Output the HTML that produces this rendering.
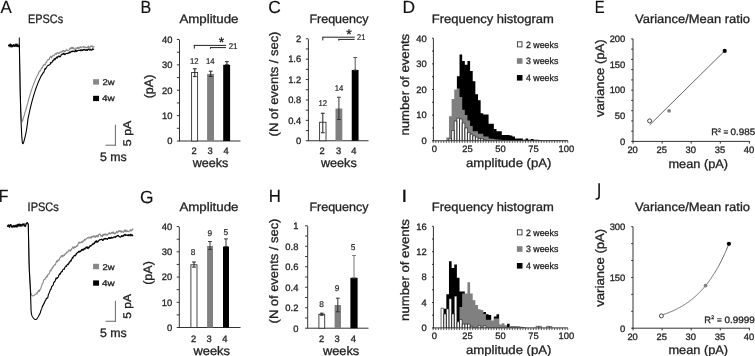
<!DOCTYPE html>
<html><head><meta charset="utf-8"><style>
html,body{margin:0;padding:0;background:#fff;overflow:hidden;}
svg{display:block;}
text{font-family:"Liberation Sans", sans-serif;text-rendering:geometricPrecision;}
svg{will-change:transform;}
</style></head><body>
<svg width="755" height="356" viewBox="0 0 755 356">
<rect width="755" height="356" fill="#fff"/>
<text transform="translate(0.42,13.10) scale(0.956,1)" x="0" y="0" font-size="17.6" fill="#111" stroke="#111" stroke-width="0.15">A</text>
<text transform="translate(140.51,13.40) scale(0.913,1)" x="0" y="0" font-size="17.6" fill="#111" stroke="#111" stroke-width="0.15">B</text>
<text transform="translate(268.23,13.20) scale(0.992,1)" x="0" y="0" font-size="17.6" fill="#111" stroke="#111" stroke-width="0.15">C</text>
<text transform="translate(402.40,12.90) scale(0.993,1)" x="0" y="0" font-size="17.6" fill="#111" stroke="#111" stroke-width="0.15">D</text>
<text transform="translate(594.71,13.20) scale(0.844,1)" x="0" y="0" font-size="17.6" fill="#111" stroke="#111" stroke-width="0.15">E</text>
<text transform="translate(-1.27,201.90) scale(0.904,1)" x="0" y="0" font-size="17.6" fill="#111" stroke="#111" stroke-width="0.15">F</text>
<text transform="translate(139.93,202.50) scale(0.989,1)" x="0" y="0" font-size="17.6" fill="#111" stroke="#111" stroke-width="0.15">G</text>
<text transform="translate(268.66,201.80) scale(0.954,1)" x="0" y="0" font-size="17.6" fill="#111" stroke="#111" stroke-width="0.15">H</text>
<text transform="translate(401.31,201.80) scale(1.256,1)" x="0" y="0" font-size="17.6" fill="#111" stroke="#111" stroke-width="0.15">I</text>
<path d="M599.1,183.3 L599.1,196.2 Q599.1,199.0 596.4,199.0 L595.6,199.0" fill="none" stroke="#111" stroke-width="1.55"/>
<text x="28.00" y="22.90" font-size="12.3" text-anchor="start" fill="#222" stroke="#222" stroke-width="0.3" textLength="35.10" lengthAdjust="spacingAndGlyphs">EPSCs</text>
<text x="27.60" y="211.00" font-size="12.3" text-anchor="start" fill="#222" stroke="#222" stroke-width="0.3" textLength="31.20" lengthAdjust="spacingAndGlyphs">IPSCs</text>
<text x="179.40" y="22.70" font-size="12.3" text-anchor="start" fill="#222" stroke="#222" stroke-width="0.3" textLength="59.10" lengthAdjust="spacingAndGlyphs">Amplitude</text>
<text x="309.40" y="22.90" font-size="12.3" text-anchor="start" fill="#222" stroke="#222" stroke-width="0.3" textLength="59.10" lengthAdjust="spacingAndGlyphs">Frequency</text>
<text x="431.80" y="22.90" font-size="12.3" text-anchor="start" fill="#222" stroke="#222" stroke-width="0.3" textLength="122.00" lengthAdjust="spacingAndGlyphs">Frequency histogram</text>
<text x="635.00" y="22.90" font-size="12.3" text-anchor="start" fill="#222" stroke="#222" stroke-width="0.3" textLength="115.00" lengthAdjust="spacingAndGlyphs">Variance/Mean ratio</text>
<text x="179.40" y="211.00" font-size="12.3" text-anchor="start" fill="#222" stroke="#222" stroke-width="0.3" textLength="59.10" lengthAdjust="spacingAndGlyphs">Amplitude</text>
<text x="309.40" y="211.20" font-size="12.3" text-anchor="start" fill="#222" stroke="#222" stroke-width="0.3" textLength="59.10" lengthAdjust="spacingAndGlyphs">Frequency</text>
<text x="431.80" y="211.20" font-size="12.3" text-anchor="start" fill="#222" stroke="#222" stroke-width="0.3" textLength="122.00" lengthAdjust="spacingAndGlyphs">Frequency histogram</text>
<text x="635.00" y="211.20" font-size="12.3" text-anchor="start" fill="#222" stroke="#222" stroke-width="0.3" textLength="115.00" lengthAdjust="spacingAndGlyphs">Variance/Mean ratio</text>
<rect x="93.10" y="79.20" width="5.90" height="5.40" fill="#888"/>
<text x="102.60" y="85.00" font-size="8.4" text-anchor="start" fill="#222" stroke="#222" stroke-width="0.3" textLength="12.10" lengthAdjust="spacingAndGlyphs">2w</text>
<rect x="93.10" y="95.80" width="5.90" height="5.30" fill="#000"/>
<text x="102.00" y="101.40" font-size="8.4" text-anchor="start" fill="#222" stroke="#222" stroke-width="0.3" textLength="12.70" lengthAdjust="spacingAndGlyphs">4w</text>
<rect x="93.10" y="263.80" width="5.90" height="5.40" fill="#888"/>
<text x="102.60" y="269.60" font-size="8.4" text-anchor="start" fill="#222" stroke="#222" stroke-width="0.3" textLength="12.10" lengthAdjust="spacingAndGlyphs">2w</text>
<rect x="93.10" y="280.40" width="5.90" height="5.30" fill="#000"/>
<text x="102.00" y="286.00" font-size="8.4" text-anchor="start" fill="#222" stroke="#222" stroke-width="0.3" textLength="12.70" lengthAdjust="spacingAndGlyphs">4w</text>
<line x1="115.40" y1="124.60" x2="115.40" y2="145.70" stroke="#666" stroke-width="1"/>
<line x1="105.60" y1="145.20" x2="115.90" y2="145.20" stroke="#666" stroke-width="1"/>
<text transform="translate(131.20,133.40) rotate(-90)" x="0" y="0" font-size="11.2" text-anchor="middle" fill="#222" stroke="#222" stroke-width="0.3" textLength="25.60" lengthAdjust="spacingAndGlyphs">5 pA</text>
<text x="100.00" y="161.10" font-size="12.3" text-anchor="start" fill="#222" stroke="#222" stroke-width="0.3" textLength="26.70" lengthAdjust="spacingAndGlyphs">5 ms</text>
<line x1="115.40" y1="300.75" x2="115.40" y2="321.75" stroke="#666" stroke-width="1"/>
<line x1="105.60" y1="321.25" x2="115.90" y2="321.25" stroke="#666" stroke-width="1"/>
<text transform="translate(131.20,306.38) rotate(-90)" x="0" y="0" font-size="11.2" text-anchor="middle" fill="#222" stroke="#222" stroke-width="0.3" textLength="24.75" lengthAdjust="spacingAndGlyphs">5 pA</text>
<text x="100.00" y="336.50" font-size="12.3" text-anchor="start" fill="#222" stroke="#222" stroke-width="0.3" textLength="26.70" lengthAdjust="spacingAndGlyphs">5 ms</text>
<path d="M8.40,45.36 L8.75,45.32 L9.10,46.85 L9.45,44.55 L9.80,44.09 L10.15,46.90 L10.50,46.70 L10.85,47.02 L11.20,45.35 L11.55,46.89 L11.90,46.82 L12.25,44.69 L12.60,46.26 L12.95,46.53 L13.30,46.00 L13.65,45.56 L14.00,44.86 L14.35,45.01 L14.70,44.67 L15.05,44.18 L15.40,45.74 L15.75,44.82 L16.10,46.39 L16.45,44.09 L16.80,46.66 L17.15,46.02 L17.50,46.70 L17.85,46.61 L18.20,46.62 L18.55,45.64 L18.90,43.94 L19.40,45.50 L19.48,51.81 L19.60,60.00 L19.74,67.16 L19.90,75.00 L20.07,84.75 L20.30,95.00 L20.50,101.84 L20.73,108.56 L21.00,114.00 L21.25,116.88 L21.54,119.01 L21.84,120.48 L22.10,121.40 L22.37,121.55 L22.60,120.67 L22.90,119.50 L23.14,118.78 L23.41,117.94 L23.70,117.00 L24.00,116.01 L24.30,115.00 L24.56,114.14 L24.82,113.25 L25.09,112.33 L25.36,111.39 L25.63,110.44 L25.90,109.50 L26.19,108.50 L26.49,107.40 L26.80,106.31 L27.09,105.29 L27.33,104.42 L27.50,103.80 L27.80,102.64 L28.15,101.31 L28.50,100.01 L28.85,98.74 L29.20,97.50 L29.55,96.29 L29.90,95.10 L30.25,93.95 L30.60,92.82 L30.95,91.72 L31.30,90.64 L31.65,89.59 L32.00,88.57 L32.35,87.57 L32.70,86.59 L33.05,85.63 L33.40,84.70 L33.75,83.79 L34.10,82.90 L34.45,82.03 L34.80,81.18 L35.15,80.36 L35.50,79.55 L35.85,78.76 L36.20,77.99 L36.55,77.24 L36.90,76.50 L37.25,75.78 L37.60,75.08 L37.95,74.40 L38.30,74.24 L38.65,72.65 L39.00,71.81 L39.35,71.84 L39.70,71.27 L40.05,70.47 L40.40,70.88 L40.75,70.13 L41.10,68.92 L41.45,67.86 L41.80,68.35 L42.15,67.54 L42.50,67.53 L42.85,66.38 L43.20,65.26 L43.55,65.17 L43.90,65.49 L44.25,64.09 L44.60,64.46 L44.95,64.72 L45.30,64.40 L45.65,64.08 L46.00,62.03 L46.35,62.11 L46.70,62.45 L47.05,60.75 L47.40,60.19 L47.75,59.73 L48.10,59.87 L48.45,59.56 L48.80,59.35 L49.15,59.72 L49.50,58.14 L49.85,57.31 L50.20,56.90 L50.55,56.55 L50.90,56.12 L51.25,57.65 L51.60,58.04 L51.95,56.51 L52.30,56.48 L52.65,55.95 L53.00,55.57 L53.35,55.34 L53.70,55.72 L54.05,55.67 L54.40,55.07 L54.75,54.31 L55.10,54.12 L55.45,53.49 L55.80,53.97 L56.15,54.45 L56.50,53.90 L56.85,52.91 L57.20,52.53 L57.55,52.65 L57.90,53.11 L58.25,53.63 L58.60,52.96 L58.95,53.43 L59.30,53.21 L59.65,52.63 L60.00,52.14 L60.35,52.08 L60.70,52.41 L61.05,51.92 L61.40,52.17 L61.75,51.75 L62.10,51.03 L62.45,51.20 L62.80,51.56 L63.15,50.39 L63.50,50.47 L63.85,50.46 L64.20,51.34 L64.55,51.85 L64.90,50.88 L65.25,51.43 L65.60,51.43 L65.95,50.28 L66.30,50.08 L66.65,49.22 L67.00,50.18 L67.35,50.30 L67.70,50.79 L68.05,50.79 L68.40,50.49 L68.75,50.44 L69.10,50.02 L69.45,48.81 L69.80,49.17 L70.15,48.11 L70.50,47.83 L70.85,48.96 L71.20,47.98 L71.55,47.55 L71.90,47.32 L72.25,48.79 L72.60,48.04 L72.95,47.31 L73.30,48.62 L73.65,47.74 L74.00,48.78 L74.35,48.92 L74.70,49.29 L75.05,49.70 L75.40,49.10 L75.75,49.23 L76.10,47.68 L76.45,48.41 L76.80,48.21 L77.15,48.52 L77.50,47.38 L77.85,48.13 L78.20,48.86 L78.55,47.39 L78.90,47.19 L79.25,47.56 L79.60,48.28 L79.95,47.40 L80.30,46.81 L80.65,46.64 L81.00,47.30 L81.35,47.90 L81.70,47.44 L82.05,47.13 L82.40,47.03 L82.75,46.86 L83.10,46.90 L83.45,46.21 L83.80,46.72 L84.15,47.94 L84.50,47.37 L84.85,47.77 L85.20,46.74 L85.55,47.31 L85.90,47.72 L86.25,47.74 L86.60,47.41 L86.95,47.17 L87.30,47.36 L87.65,47.98 L88.00,46.72 L88.35,45.97 L88.70,46.94 L89.05,47.76 L89.40,47.34 L89.75,46.96 L90.10,47.33 L90.45,46.40 L90.80,46.10 L91.15,45.79 L91.50,46.44 L91.85,46.19 L92.20,45.88 L92.55,46.68 L92.90,47.61 L93.25,46.70 L93.60,47.09 L93.95,46.67 L94.30,47.37" fill="none" stroke="#8a8a8a" stroke-width="1.1" stroke-linejoin="round"/>
<path d="M8.40,44.81 L8.75,45.73 L9.10,45.20 L9.45,45.89 L9.80,45.95 L10.15,44.26 L10.50,44.10 L10.85,46.57 L11.20,44.83 L11.55,44.74 L11.90,47.02 L12.25,45.44 L12.60,46.53 L12.95,45.44 L13.30,45.93 L13.65,44.45 L14.00,45.90 L14.35,46.59 L14.70,45.55 L15.05,46.20 L15.40,45.98 L15.75,44.16 L16.10,46.23 L16.45,45.72 L16.80,44.85 L17.15,44.03 L17.50,46.53 L17.85,45.34 L18.20,46.07 L18.55,46.55 L18.90,46.05 L19.40,45.50 L19.48,51.81 L19.60,60.00 L19.74,67.16 L19.90,75.00 L20.07,84.38 L20.30,95.00 L20.50,103.19 L20.73,111.93 L21.00,120.00 L21.23,125.51 L21.48,130.77 L21.74,135.40 L22.00,139.00 L22.23,141.42 L22.45,142.89 L22.69,143.59 L23.00,143.70 L23.22,143.45 L23.46,142.90 L23.72,142.11 L23.99,141.15 L24.27,140.10 L24.54,139.03 L24.80,138.00 L25.09,136.84 L25.38,135.62 L25.67,134.34 L25.95,132.98 L26.23,131.54 L26.50,130.00 L26.78,128.20 L27.07,126.12 L27.36,123.95 L27.62,121.89 L27.84,120.14 L28.00,118.90 L28.30,117.40 L28.65,115.69 L29.00,114.03 L29.35,112.41 L29.70,110.84 L30.05,109.30 L30.40,107.79 L30.75,106.33 L31.10,104.90 L31.45,103.51 L31.80,102.15 L32.15,100.83 L32.50,99.54 L32.85,98.28 L33.20,97.05 L33.55,95.85 L33.90,94.69 L34.25,93.55 L34.60,92.44 L34.95,91.35 L35.30,90.30 L35.65,89.27 L36.00,88.26 L36.35,87.29 L36.70,86.33 L37.05,85.40 L37.40,84.49 L37.75,83.61 L38.10,82.74 L38.45,81.90 L38.80,81.08 L39.15,80.28 L39.50,79.50 L39.85,78.74 L40.20,77.99 L40.55,77.27 L40.90,76.56 L41.25,75.87 L41.60,75.20 L41.95,74.55 L42.30,74.58 L42.65,73.46 L43.00,73.25 L43.35,72.28 L43.70,72.30 L44.05,71.95 L44.40,70.26 L44.75,69.21 L45.10,68.56 L45.45,69.19 L45.80,68.41 L46.15,68.09 L46.50,67.18 L46.85,66.83 L47.20,66.24 L47.55,65.68 L47.90,65.56 L48.25,65.30 L48.60,65.48 L48.95,65.03 L49.30,65.01 L49.65,64.70 L50.00,64.58 L50.35,63.83 L50.70,62.48 L51.05,62.75 L51.40,62.89 L51.75,62.70 L52.10,61.92 L52.45,61.61 L52.80,60.51 L53.15,60.80 L53.50,60.40 L53.85,59.60 L54.20,58.71 L54.55,59.41 L54.90,59.85 L55.25,58.50 L55.60,58.85 L55.95,58.28 L56.30,57.47 L56.65,57.18 L57.00,57.68 L57.35,58.00 L57.70,56.73 L58.05,56.90 L58.40,55.98 L58.75,56.50 L59.10,56.05 L59.45,56.62 L59.80,56.97 L60.15,56.30 L60.50,56.67 L60.85,55.67 L61.20,54.72 L61.55,55.00 L61.90,54.15 L62.25,53.92 L62.60,54.07 L62.95,54.40 L63.30,53.77 L63.65,53.20 L64.00,54.18 L64.35,53.71 L64.70,54.45 L65.05,54.66 L65.40,53.87 L65.75,53.56 L66.10,53.44 L66.45,53.52 L66.80,53.43 L67.15,53.27 L67.50,53.24 L67.85,53.69 L68.20,53.17 L68.55,52.75 L68.90,52.95 L69.25,52.23 L69.60,51.93 L69.95,52.82 L70.30,52.49 L70.65,52.33 L71.00,51.36 L71.35,51.47 L71.70,51.76 L72.05,50.97 L72.40,51.49 L72.75,51.74 L73.10,50.92 L73.45,51.38 L73.80,51.32 L74.15,51.60 L74.50,51.19 L74.85,51.52 L75.20,51.71 L75.55,50.62 L75.90,50.12 L76.25,50.82 L76.60,51.61 L76.95,50.83 L77.30,50.75 L77.65,50.90 L78.00,50.52 L78.35,50.37 L78.70,50.20 L79.05,50.18 L79.40,50.51 L79.75,50.18 L80.10,50.12 L80.45,50.70 L80.80,49.78 L81.15,50.16 L81.50,50.60 L81.85,50.13 L82.20,49.73 L82.55,50.44 L82.90,49.88 L83.25,49.50 L83.60,49.69 L83.95,50.19 L84.30,49.47 L84.65,49.45 L85.00,49.44 L85.35,50.22 L85.70,49.97 L86.05,50.50 L86.40,49.65 L86.75,49.48 L87.10,49.88 L87.45,50.45 L87.80,50.03 L88.15,49.44 L88.50,48.97 L88.85,49.38 L89.20,49.03 L89.55,49.83 L89.90,50.27 L90.25,49.43 L90.60,49.16 L90.95,49.86 L91.30,49.93 L91.65,50.22 L92.00,49.62 L92.35,48.97 L92.70,48.89 L93.05,49.65 L93.40,49.19 L93.75,49.07 L94.10,49.11" fill="none" stroke="#000" stroke-width="1.1" stroke-linejoin="round"/>
<line x1="19.30" y1="37.60" x2="19.30" y2="46.00" stroke="#000" stroke-width="1"/>
<path d="M7.30,226.25 L7.65,225.28 L8.00,225.11 L8.35,224.51 L8.70,225.86 L9.05,225.55 L9.40,224.90 L9.75,225.45 L10.10,225.31 L10.45,226.65 L10.80,224.74 L11.15,227.26 L11.50,225.71 L11.85,226.05 L12.20,225.63 L12.55,226.72 L12.90,226.66 L13.25,225.84 L13.60,225.60 L13.95,226.30 L14.30,226.69 L14.65,225.30 L15.00,226.28 L15.35,226.94 L15.70,225.44 L16.05,224.71 L16.40,224.70 L16.75,226.13 L17.10,225.99 L17.45,226.82 L17.80,226.48 L18.15,224.63 L18.50,224.45 L18.85,224.64 L19.20,224.41 L19.55,225.94 L19.90,226.38 L20.25,226.49 L20.60,224.53 L20.95,226.35 L21.30,224.67 L21.65,224.98 L22.00,225.88 L22.35,223.93 L22.70,223.93 L23.05,226.14 L23.40,224.49 L23.75,224.67 L24.10,225.32 L24.45,225.58 L24.80,223.56 L25.15,224.52 L25.50,224.81 L26.30,223.50 L27.20,222.60 L27.90,223.60 L28.30,224.50 L28.51,236.00 L28.80,250.00 L29.01,257.11 L29.24,263.61 L29.50,270.00 L29.73,275.14 L29.98,280.41 L30.24,285.22 L30.50,289.00 L30.74,291.42 L30.97,292.85 L31.22,293.73 L31.50,294.50 L31.75,295.08 L32.02,295.47 L32.30,295.70 L32.59,295.83 L32.90,295.90 L33.16,295.89 L33.43,295.80 L33.70,295.64 L33.99,295.44 L34.28,295.22 L34.60,295.00 L34.84,294.84 L35.09,294.69 L35.34,294.53 L35.59,294.36 L35.87,294.16 L36.15,293.89 L36.46,293.02 L36.80,293.17 L37.04,293.93 L37.30,293.00 L37.58,292.70 L37.86,291.52 L38.16,291.08 L38.46,291.51 L38.76,290.38 L39.06,291.23 L39.36,291.49 L39.65,289.71 L39.93,290.34 L40.20,289.22 L40.51,289.09 L40.80,288.61 L41.08,286.99 L41.35,286.55 L41.63,285.86 L41.90,285.41 L42.18,283.66 L42.47,283.42 L42.78,283.39 L43.10,282.47 L43.36,281.58 L43.64,280.05 L43.92,279.87 L44.22,279.30 L44.51,279.58 L44.82,279.46 L45.12,278.99 L45.43,277.77 L45.73,277.95 L46.03,277.82 L46.33,276.64 L46.62,277.34 L46.90,277.00 L47.20,275.49 L47.51,276.19 L47.82,274.67 L48.13,274.09 L48.43,274.38 L48.73,274.05 L49.02,273.58 L49.31,273.34 L49.58,272.62 L49.84,271.78 L50.08,270.90 L50.30,270.08 L50.65,270.63 L50.89,270.85 L51.08,270.36 L51.29,270.34 L51.57,269.26 L52.00,268.13 L52.20,267.84 L52.42,268.54 L52.65,267.00 L52.90,267.00 L53.16,266.29 L53.43,266.82 L53.72,266.03 L54.01,265.39 L54.30,265.01 L54.61,264.90 L54.92,265.12 L55.23,264.16 L55.55,264.50 L55.87,262.94 L56.18,262.29 L56.50,261.41 L56.77,260.87 L57.03,261.81 L57.30,262.00 L57.58,260.80 L57.85,260.03 L58.13,259.94 L58.41,260.40 L58.69,260.60 L58.97,260.39 L59.26,259.78 L59.56,258.38 L59.86,258.02 L60.16,257.25 L60.47,257.39 L60.78,257.37 L61.10,256.44 L61.43,255.90 L61.76,256.59 L62.10,255.21 L62.36,256.04 L62.63,256.53 L62.91,256.78 L63.19,255.61 L63.48,255.26 L63.77,255.03 L64.07,254.91 L64.37,255.45 L64.67,255.01 L64.97,253.87 L65.28,254.36 L65.59,253.71 L65.90,253.52 L66.21,253.58 L66.52,251.99 L66.83,252.69 L67.14,252.71 L67.44,252.26 L67.75,251.99 L68.05,251.63 L68.35,250.78 L68.64,250.96 L68.93,249.92 L69.22,250.26 L69.50,250.63 L69.82,250.27 L70.13,250.23 L70.44,250.91 L70.75,251.00 L71.06,249.36 L71.36,249.79 L71.67,249.55 L71.97,248.13 L72.27,247.95 L72.57,247.49 L72.87,246.83 L73.16,247.36 L73.46,248.33 L73.75,247.44 L74.04,248.04 L74.32,247.87 L74.61,246.52 L74.89,247.25 L75.17,246.98 L75.45,247.42 L75.73,247.11 L76.00,246.91 L76.31,245.86 L76.60,246.19 L76.88,246.52 L77.14,246.43 L77.40,245.41 L77.66,245.47 L77.91,244.84 L78.16,243.64 L78.41,242.81 L78.66,242.38 L78.92,242.32 L79.19,242.11 L79.46,242.61 L79.76,243.18 L80.06,243.03 L80.39,242.62 L80.74,242.78 L81.11,242.04 L81.50,241.89 L81.73,242.41 L81.97,241.86 L82.22,241.07 L82.47,242.10 L82.73,242.17 L82.99,241.41 L83.27,240.97 L83.54,241.01 L83.82,241.10 L84.11,240.30 L84.40,239.38 L84.69,239.27 L84.99,240.34 L85.29,239.48 L85.60,239.63 L85.90,239.09 L86.21,238.78 L86.52,238.48 L86.84,238.74 L87.15,238.32 L87.47,237.74 L87.78,237.56 L88.10,237.53 L88.41,238.11 L88.73,237.45 L89.04,236.98 L89.36,237.56 L89.67,237.71 L89.98,238.35 L90.29,237.25 L90.60,237.38 L90.90,237.37 L91.20,236.55 L91.50,238.04 L91.79,237.19 L92.09,236.45 L92.38,236.83 L92.67,236.33 L92.96,236.99 L93.24,236.71 L93.53,236.06 L93.82,235.55 L94.10,236.66 L94.39,236.24 L94.67,237.05 L94.96,236.76 L95.24,237.55 L95.53,236.59 L95.81,235.97 L96.10,235.66 L96.39,236.62 L96.68,236.68 L96.97,236.08 L97.26,235.23 L97.55,236.00 L97.85,236.95 L98.14,236.60 L98.44,235.18 L98.75,234.49 L99.05,234.23 L99.36,234.24 L99.67,233.93 L99.98,233.78 L100.30,234.92 L100.62,235.96 L100.94,235.00 L101.27,236.08 L101.60,235.56 L101.87,235.95 L102.13,236.36 L102.40,236.58 L102.68,234.77 L102.95,234.40 L103.23,234.81 L103.51,235.70 L103.79,234.32 L104.07,234.03 L104.36,235.01 L104.65,233.94 L104.93,233.95 L105.23,233.81 L105.52,234.42 L105.81,235.22 L106.10,234.02 L106.40,234.56 L106.70,234.79 L107.00,235.09 L107.29,234.62 L107.59,235.12 L107.89,234.18 L108.19,233.78 L108.50,233.17 L108.80,233.98 L109.10,233.73 L109.40,233.14 L109.71,232.61 L110.01,233.46 L110.31,233.61 L110.61,233.88 L110.92,233.32 L111.22,233.21 L111.52,232.44 L111.82,233.19 L112.12,232.10 L112.42,232.46 L112.72,233.21 L113.02,233.40 L113.32,232.26 L113.61,231.96 L113.91,233.04 L114.20,233.14 L114.50,233.66 L114.81,233.88 L115.12,233.09 L115.43,233.60 L115.74,233.50 L116.06,232.59 L116.37,232.19 L116.69,231.35 L117.02,231.59 L117.34,232.85 L117.66,231.69 L117.99,232.05 L118.31,231.26 L118.64,230.78 L118.96,231.71 L119.29,231.30 L119.61,230.68 L119.94,230.57 L120.26,231.51 L120.58,231.85 L120.90,230.80 L121.22,230.72 L121.53,232.19 L121.85,231.35 L122.16,231.63 L122.47,231.45 L122.77,232.10 L123.07,232.04 L123.37,232.37 L123.67,232.00 L123.96,231.07 L124.24,230.57 L124.52,230.10 L124.80,231.39 L125.07,230.54 L125.34,229.92 L125.60,231.55 L125.85,230.75 L126.10,231.78 L126.34,230.59 L126.57,230.77 L126.80,230.34 L127.24,231.34 L127.67,231.35 L128.08,231.38 L128.47,231.60 L128.85,231.91 L129.22,230.93 L129.57,230.94 L129.91,230.58 L130.23,229.67 L130.54,230.69 L130.83,230.67 L131.11,231.08 L131.38,229.99 L131.63,230.11 L131.87,229.99 L132.09,230.45 L132.30,229.30 L132.50,229.26 L132.68,229.51 L132.85,228.76 L133.00,229.37" fill="none" stroke="#8a8a8a" stroke-width="1.1" stroke-linejoin="round"/>
<path d="M7.30,226.71 L7.65,225.75 L8.00,226.41 L8.35,226.26 L8.70,225.07 L9.05,225.46 L9.40,227.37 L9.75,225.37 L10.10,225.64 L10.45,224.58 L10.80,224.96 L11.15,224.78 L11.50,227.06 L11.85,226.43 L12.20,226.85 L12.55,227.17 L12.90,226.03 L13.25,226.97 L13.60,225.76 L13.95,225.39 L14.30,226.96 L14.65,226.81 L15.00,226.93 L15.35,225.51 L15.70,226.36 L16.05,225.24 L16.40,226.99 L16.75,226.74 L17.10,224.84 L17.45,226.74 L17.80,224.48 L18.15,224.19 L18.50,226.05 L18.85,224.75 L19.20,225.40 L19.55,225.74 L19.90,223.93 L20.25,226.02 L20.60,224.60 L20.95,225.05 L21.30,224.77 L21.65,225.94 L22.00,225.93 L22.35,224.53 L22.70,223.96 L23.05,224.53 L23.40,224.85 L23.75,223.83 L24.10,224.04 L24.45,225.85 L24.80,225.64 L25.15,226.45 L25.50,226.44 L26.30,223.50 L27.20,222.60 L27.90,223.60 L28.30,224.50 L28.52,236.12 L28.80,250.00 L28.96,259.22 L29.20,268.00 L29.46,273.38 L29.79,279.19 L30.13,284.90 L30.40,290.00 L30.69,298.34 L30.90,305.00 L31.06,309.96 L31.40,313.60 L31.60,314.47 L31.85,315.25 L32.13,315.93 L32.44,316.54 L32.76,317.08 L33.08,317.56 L33.40,318.00 L33.68,318.35 L33.98,318.66 L34.29,318.93 L34.60,319.15 L34.91,319.32 L35.22,319.44 L35.52,319.50 L35.80,319.50 L36.10,319.43 L36.37,319.30 L36.64,319.09 L36.90,318.81 L37.17,318.46 L37.47,318.02 L37.80,317.50 L38.06,317.07 L38.34,316.57 L38.63,316.02 L38.94,315.42 L39.25,314.79 L39.56,314.15 L39.87,313.49 L40.16,313.44 L40.44,312.30 L40.70,311.11 L41.03,310.20 L41.31,309.55 L41.57,308.89 L41.83,308.16 L42.09,307.09 L42.37,306.94 L42.70,305.58 L42.95,305.06 L43.22,305.23 L43.50,304.96 L43.79,303.78 L44.09,302.87 L44.39,303.08 L44.69,301.68 L45.00,300.92 L45.30,300.92 L45.60,300.66 L45.87,299.69 L46.15,298.75 L46.44,298.25 L46.73,298.63 L47.01,298.04 L47.30,298.29 L47.58,297.83 L47.85,297.64 L48.11,295.77 L48.36,294.82 L48.60,293.83 L48.92,293.54 L49.19,292.95 L49.43,291.91 L49.66,291.87 L49.92,290.77 L50.22,290.15 L50.60,289.23 L50.84,289.55 L51.09,288.78 L51.36,287.81 L51.65,286.62 L51.95,286.29 L52.26,286.08 L52.57,285.69 L52.89,285.52 L53.22,284.92 L53.54,283.39 L53.86,282.14 L54.18,282.21 L54.50,282.03 L54.77,281.31 L55.04,281.26 L55.31,280.59 L55.58,279.62 L55.84,278.77 L56.12,277.92 L56.39,278.32 L56.66,278.74 L56.94,278.79 L57.22,277.93 L57.51,277.63 L57.80,277.71 L58.09,277.37 L58.39,276.66 L58.70,275.79 L58.98,275.35 L59.26,274.37 L59.54,273.71 L59.83,273.98 L60.12,274.41 L60.41,273.71 L60.71,272.94 L61.01,272.26 L61.31,271.88 L61.61,272.04 L61.92,271.35 L62.23,271.62 L62.54,270.26 L62.85,269.63 L63.17,269.45 L63.48,268.98 L63.80,269.25 L64.07,269.22 L64.34,269.20 L64.61,268.52 L64.87,267.09 L65.14,267.08 L65.41,266.88 L65.68,266.52 L65.96,265.85 L66.23,266.04 L66.51,266.30 L66.79,264.97 L67.07,265.05 L67.36,264.44 L67.65,264.20 L67.94,264.52 L68.24,264.60 L68.55,263.96 L68.86,262.73 L69.18,263.09 L69.50,261.90 L69.76,261.50 L70.03,261.85 L70.31,261.03 L70.59,260.37 L70.87,260.95 L71.16,261.04 L71.45,259.90 L71.74,259.27 L72.04,258.59 L72.34,257.82 L72.64,257.43 L72.94,258.22 L73.25,256.99 L73.55,256.43 L73.86,255.92 L74.17,255.29 L74.47,255.52 L74.78,255.80 L75.09,255.93 L75.39,255.50 L75.70,255.43 L76.00,253.95 L76.30,253.50 L76.60,254.23 L76.90,253.04 L77.20,252.64 L77.50,252.67 L77.80,252.22 L78.11,252.33 L78.41,251.48 L78.72,251.26 L79.03,252.20 L79.34,251.27 L79.65,251.93 L79.96,251.01 L80.26,251.76 L80.57,251.55 L80.88,251.31 L81.18,250.31 L81.48,249.59 L81.78,250.28 L82.08,249.62 L82.37,249.23 L82.66,249.98 L82.95,250.37 L83.23,249.17 L83.50,249.96 L83.78,249.60 L84.04,249.11 L84.30,248.36 L84.63,248.33 L84.96,249.20 L85.28,248.43 L85.59,247.75 L85.89,247.37 L86.19,247.09 L86.48,247.26 L86.77,248.19 L87.05,247.26 L87.33,246.93 L87.61,247.91 L87.88,248.44 L88.14,248.62 L88.41,247.48 L88.67,247.02 L88.93,247.68 L89.19,247.20 L89.44,247.23 L89.70,246.54 L90.01,245.60 L90.30,245.53 L90.58,246.03 L90.84,246.21 L91.09,245.84 L91.34,245.36 L91.59,245.11 L91.84,244.70 L92.10,244.52 L92.36,244.78 L92.65,243.77 L92.95,243.78 L93.27,244.20 L93.62,244.15 L94.00,242.95 L94.23,243.58 L94.46,243.63 L94.70,242.51 L94.94,242.04 L95.18,241.64 L95.43,241.13 L95.68,242.28 L95.93,241.88 L96.19,242.36 L96.46,241.31 L96.72,240.56 L97.00,241.49 L97.28,241.76 L97.57,242.15 L97.86,241.79 L98.16,241.28 L98.47,241.35 L98.78,240.25 L99.11,240.35 L99.44,240.18 L99.78,239.56 L100.12,239.91 L100.48,239.59 L100.84,239.66 L101.22,239.43 L101.60,239.17 L101.84,239.09 L102.08,239.40 L102.33,240.14 L102.58,240.40 L102.84,240.38 L103.10,240.29 L103.37,239.34 L103.64,239.93 L103.91,239.07 L104.19,238.37 L104.47,238.60 L104.75,239.05 L105.04,238.62 L105.33,238.86 L105.63,238.37 L105.92,239.19 L106.22,238.74 L106.52,238.53 L106.82,238.49 L107.13,238.98 L107.43,239.38 L107.74,238.82 L108.05,238.37 L108.36,238.40 L108.67,237.51 L108.98,237.60 L109.29,238.30 L109.61,238.51 L109.92,237.44 L110.23,238.15 L110.54,237.72 L110.85,238.44 L111.17,237.79 L111.48,237.19 L111.79,237.40 L112.09,238.02 L112.40,237.58 L112.71,238.03 L113.01,237.98 L113.31,237.37 L113.61,236.94 L113.91,237.03 L114.20,236.88 L114.50,236.73 L114.81,237.08 L115.12,237.59 L115.43,237.35 L115.74,236.51 L116.06,236.18 L116.37,236.23 L116.69,236.62 L117.02,236.03 L117.34,235.61 L117.66,235.77 L117.99,235.76 L118.31,235.32 L118.64,235.89 L118.96,236.77 L119.29,236.56 L119.61,236.76 L119.94,236.98 L120.26,237.09 L120.58,237.23 L120.90,236.53 L121.22,236.54 L121.53,235.63 L121.85,236.37 L122.16,235.91 L122.47,235.82 L122.77,236.41 L123.07,235.73 L123.37,235.21 L123.67,235.95 L123.96,235.94 L124.24,235.09 L124.52,234.56 L124.80,234.79 L125.07,234.34 L125.34,235.42 L125.60,234.91 L125.85,234.78 L126.10,234.89 L126.34,235.13 L126.57,235.10 L126.80,235.40 L127.24,235.56 L127.67,235.26 L128.08,234.56 L128.47,235.60 L128.85,235.65 L129.22,234.70 L129.57,234.78 L129.91,235.32 L130.23,235.97 L130.54,234.81 L130.83,234.13 L131.11,234.55 L131.38,234.66 L131.63,235.47 L131.87,235.77 L132.09,235.12 L132.30,234.94 L132.50,235.11 L132.68,235.67 L132.85,234.86 L133.00,234.75" fill="none" stroke="#000" stroke-width="1.1" stroke-linejoin="round"/>
<line x1="179.50" y1="40.00" x2="179.50" y2="141.00" stroke="#333" stroke-width="1"/>
<line x1="176.90" y1="141.00" x2="179.50" y2="141.00" stroke="#333" stroke-width="1"/>
<line x1="176.90" y1="128.31" x2="179.50" y2="128.31" stroke="#333" stroke-width="1"/>
<line x1="176.90" y1="115.62" x2="179.50" y2="115.62" stroke="#333" stroke-width="1"/>
<line x1="176.90" y1="102.94" x2="179.50" y2="102.94" stroke="#333" stroke-width="1"/>
<line x1="176.90" y1="90.25" x2="179.50" y2="90.25" stroke="#333" stroke-width="1"/>
<line x1="176.90" y1="77.56" x2="179.50" y2="77.56" stroke="#333" stroke-width="1"/>
<line x1="176.90" y1="64.88" x2="179.50" y2="64.88" stroke="#333" stroke-width="1"/>
<line x1="176.90" y1="52.19" x2="179.50" y2="52.19" stroke="#333" stroke-width="1"/>
<line x1="176.90" y1="39.50" x2="179.50" y2="39.50" stroke="#333" stroke-width="1"/>
<text x="172.40" y="144.30" font-size="9.4" text-anchor="end" fill="#222" stroke="#222" stroke-width="0.3">0</text>
<text x="172.40" y="118.92" font-size="9.4" text-anchor="end" fill="#222" stroke="#222" stroke-width="0.3">10</text>
<text x="172.40" y="93.55" font-size="9.4" text-anchor="end" fill="#222" stroke="#222" stroke-width="0.3">20</text>
<text x="172.40" y="68.17" font-size="9.4" text-anchor="end" fill="#222" stroke="#222" stroke-width="0.3">30</text>
<text x="172.40" y="42.80" font-size="9.4" text-anchor="end" fill="#222" stroke="#222" stroke-width="0.3">40</text>
<line x1="179.00" y1="141.00" x2="240.50" y2="141.00" stroke="#333" stroke-width="1"/>
<rect x="191.60" y="72.50" width="6.00" height="68.50" fill="#fff" stroke="#333" stroke-width="0.9"/>
<line x1="194.80" y1="68.75" x2="194.80" y2="76.60" stroke="#222" stroke-width="1"/>
<line x1="192.90" y1="68.75" x2="196.70" y2="68.75" stroke="#222" stroke-width="1"/>
<line x1="192.90" y1="76.60" x2="196.70" y2="76.60" stroke="#222" stroke-width="1"/>
<rect x="207.10" y="73.90" width="6.90" height="67.10" fill="#808080"/>
<line x1="210.70" y1="71.20" x2="210.70" y2="76.40" stroke="#222" stroke-width="1"/>
<line x1="208.80" y1="71.20" x2="212.60" y2="71.20" stroke="#222" stroke-width="1"/>
<line x1="208.80" y1="76.40" x2="212.60" y2="76.40" stroke="#222" stroke-width="1"/>
<rect x="223.20" y="64.80" width="6.90" height="76.20" fill="#000"/>
<line x1="226.90" y1="61.70" x2="226.90" y2="64.80" stroke="#222" stroke-width="1"/>
<line x1="225.00" y1="61.70" x2="228.80" y2="61.70" stroke="#222" stroke-width="1"/>
<line x1="225.00" y1="64.80" x2="228.80" y2="64.80" stroke="#222" stroke-width="1"/>
<text x="194.35" y="63.70" font-size="8.3" text-anchor="middle" fill="#222" stroke="#222" stroke-width="0.2" textLength="8.60" lengthAdjust="spacingAndGlyphs">12</text>
<text x="210.35" y="63.70" font-size="8.3" text-anchor="middle" fill="#222" stroke="#222" stroke-width="0.2" textLength="8.60" lengthAdjust="spacingAndGlyphs">14</text>
<line x1="193.80" y1="45.40" x2="226.00" y2="45.40" stroke="#222" stroke-width="1"/>
<line x1="194.30" y1="45.40" x2="194.30" y2="48.60" stroke="#222" stroke-width="1"/>
<line x1="210.00" y1="47.60" x2="226.00" y2="47.60" stroke="#222" stroke-width="1"/>
<line x1="210.50" y1="47.60" x2="210.50" y2="48.80" stroke="#222" stroke-width="1"/>
<text x="221.50" y="47.00" font-size="14" text-anchor="middle" fill="#111" stroke="#111" stroke-width="0.3">*</text>
<text x="228.70" y="48.60" font-size="8.3" text-anchor="start" fill="#222" stroke="#222" stroke-width="0.2" textLength="8.80" lengthAdjust="spacingAndGlyphs">21</text>
<text x="194.00" y="153.80" font-size="9.4" text-anchor="middle" fill="#222" stroke="#222" stroke-width="0.3">2</text>
<text x="210.10" y="153.80" font-size="9.4" text-anchor="middle" fill="#222" stroke="#222" stroke-width="0.3">3</text>
<text x="226.20" y="153.80" font-size="9.4" text-anchor="middle" fill="#222" stroke="#222" stroke-width="0.3">4</text>
<text x="192.80" y="167.00" font-size="12.3" text-anchor="start" fill="#222" stroke="#222" stroke-width="0.3" textLength="35.60" lengthAdjust="spacingAndGlyphs">weeks</text>
<text transform="translate(152.60,86.50) rotate(-90)" x="0" y="0" font-size="12.3" text-anchor="middle" fill="#222" stroke="#222" stroke-width="0.3" textLength="23.60" lengthAdjust="spacingAndGlyphs">(pA)</text>
<line x1="308.40" y1="39.25" x2="308.40" y2="140.75" stroke="#333" stroke-width="1"/>
<line x1="305.80" y1="140.75" x2="308.40" y2="140.75" stroke="#333" stroke-width="1"/>
<line x1="305.80" y1="130.55" x2="308.40" y2="130.55" stroke="#333" stroke-width="1"/>
<line x1="305.80" y1="120.35" x2="308.40" y2="120.35" stroke="#333" stroke-width="1"/>
<line x1="305.80" y1="110.15" x2="308.40" y2="110.15" stroke="#333" stroke-width="1"/>
<line x1="305.80" y1="99.95" x2="308.40" y2="99.95" stroke="#333" stroke-width="1"/>
<line x1="305.80" y1="89.75" x2="308.40" y2="89.75" stroke="#333" stroke-width="1"/>
<line x1="305.80" y1="79.55" x2="308.40" y2="79.55" stroke="#333" stroke-width="1"/>
<line x1="305.80" y1="69.35" x2="308.40" y2="69.35" stroke="#333" stroke-width="1"/>
<line x1="305.80" y1="59.15" x2="308.40" y2="59.15" stroke="#333" stroke-width="1"/>
<line x1="305.80" y1="48.95" x2="308.40" y2="48.95" stroke="#333" stroke-width="1"/>
<line x1="305.80" y1="38.75" x2="308.40" y2="38.75" stroke="#333" stroke-width="1"/>
<text x="301.20" y="144.05" font-size="9.4" text-anchor="end" fill="#222" stroke="#222" stroke-width="0.3">0</text>
<text x="301.20" y="123.65" font-size="9.4" text-anchor="end" fill="#222" stroke="#222" stroke-width="0.3">0.4</text>
<text x="301.20" y="103.25" font-size="9.4" text-anchor="end" fill="#222" stroke="#222" stroke-width="0.3">0.8</text>
<text x="301.20" y="82.85" font-size="9.4" text-anchor="end" fill="#222" stroke="#222" stroke-width="0.3">1.2</text>
<text x="301.20" y="62.45" font-size="9.4" text-anchor="end" fill="#222" stroke="#222" stroke-width="0.3">1.6</text>
<text x="301.20" y="42.05" font-size="9.4" text-anchor="end" fill="#222" stroke="#222" stroke-width="0.3">2</text>
<line x1="307.90" y1="140.75" x2="368.50" y2="140.75" stroke="#333" stroke-width="1"/>
<rect x="319.60" y="122.25" width="6.40" height="18.50" fill="#fff" stroke="#333" stroke-width="0.9"/>
<line x1="322.80" y1="113.25" x2="322.80" y2="132.75" stroke="#222" stroke-width="1"/>
<line x1="320.90" y1="113.25" x2="324.70" y2="113.25" stroke="#222" stroke-width="1"/>
<line x1="320.90" y1="132.75" x2="324.70" y2="132.75" stroke="#222" stroke-width="1"/>
<rect x="335.50" y="108.50" width="6.80" height="32.25" fill="#808080"/>
<line x1="338.90" y1="97.25" x2="338.90" y2="119.50" stroke="#333" stroke-width="1"/>
<line x1="337.00" y1="97.25" x2="340.80" y2="97.25" stroke="#333" stroke-width="1"/>
<line x1="337.00" y1="119.50" x2="340.80" y2="119.50" stroke="#333" stroke-width="1"/>
<rect x="351.75" y="70.00" width="6.80" height="70.75" fill="#000"/>
<line x1="355.20" y1="57.50" x2="355.20" y2="70.00" stroke="#555" stroke-width="1"/>
<line x1="353.30" y1="57.50" x2="357.10" y2="57.50" stroke="#555" stroke-width="1"/>
<line x1="353.30" y1="70.00" x2="357.10" y2="70.00" stroke="#555" stroke-width="1"/>
<text x="322.85" y="106.40" font-size="8.3" text-anchor="middle" fill="#222" stroke="#222" stroke-width="0.2" textLength="8.60" lengthAdjust="spacingAndGlyphs">12</text>
<text x="339.10" y="90.60" font-size="8.3" text-anchor="middle" fill="#222" stroke="#222" stroke-width="0.2" textLength="8.60" lengthAdjust="spacingAndGlyphs">14</text>
<line x1="322.30" y1="37.20" x2="354.70" y2="37.20" stroke="#222" stroke-width="1"/>
<line x1="322.80" y1="37.20" x2="322.80" y2="40.40" stroke="#222" stroke-width="1"/>
<line x1="338.30" y1="39.40" x2="354.70" y2="39.40" stroke="#222" stroke-width="1"/>
<line x1="338.80" y1="39.40" x2="338.80" y2="40.60" stroke="#222" stroke-width="1"/>
<text x="349.00" y="38.70" font-size="14" text-anchor="middle" fill="#111" stroke="#111" stroke-width="0.3">*</text>
<text x="357.10" y="39.90" font-size="8.3" text-anchor="start" fill="#222" stroke="#222" stroke-width="0.2" textLength="8.20" lengthAdjust="spacingAndGlyphs">21</text>
<text x="322.20" y="153.60" font-size="9.4" text-anchor="middle" fill="#222" stroke="#222" stroke-width="0.3">2</text>
<text x="338.50" y="153.60" font-size="9.4" text-anchor="middle" fill="#222" stroke="#222" stroke-width="0.3">3</text>
<text x="353.80" y="153.60" font-size="9.4" text-anchor="middle" fill="#222" stroke="#222" stroke-width="0.3">4</text>
<text x="321.00" y="167.10" font-size="12.3" text-anchor="start" fill="#222" stroke="#222" stroke-width="0.3" textLength="35.70" lengthAdjust="spacingAndGlyphs">weeks</text>
<text transform="translate(278.20,84.00) rotate(-90)" x="0" y="0" font-size="12.3" text-anchor="middle" fill="#222" stroke="#222" stroke-width="0.3" textLength="104.80" lengthAdjust="spacingAndGlyphs">(N of events / sec)</text>
<line x1="179.30" y1="227.00" x2="179.30" y2="327.50" stroke="#333" stroke-width="1"/>
<line x1="176.70" y1="327.50" x2="179.30" y2="327.50" stroke="#333" stroke-width="1"/>
<line x1="176.70" y1="314.89" x2="179.30" y2="314.89" stroke="#333" stroke-width="1"/>
<line x1="176.70" y1="302.27" x2="179.30" y2="302.27" stroke="#333" stroke-width="1"/>
<line x1="176.70" y1="289.66" x2="179.30" y2="289.66" stroke="#333" stroke-width="1"/>
<line x1="176.70" y1="277.05" x2="179.30" y2="277.05" stroke="#333" stroke-width="1"/>
<line x1="176.70" y1="264.44" x2="179.30" y2="264.44" stroke="#333" stroke-width="1"/>
<line x1="176.70" y1="251.82" x2="179.30" y2="251.82" stroke="#333" stroke-width="1"/>
<line x1="176.70" y1="239.21" x2="179.30" y2="239.21" stroke="#333" stroke-width="1"/>
<line x1="176.70" y1="226.60" x2="179.30" y2="226.60" stroke="#333" stroke-width="1"/>
<text x="172.20" y="330.80" font-size="9.4" text-anchor="end" fill="#222" stroke="#222" stroke-width="0.3">0</text>
<text x="172.20" y="305.57" font-size="9.4" text-anchor="end" fill="#222" stroke="#222" stroke-width="0.3">10</text>
<text x="172.20" y="280.35" font-size="9.4" text-anchor="end" fill="#222" stroke="#222" stroke-width="0.3">20</text>
<text x="172.20" y="255.12" font-size="9.4" text-anchor="end" fill="#222" stroke="#222" stroke-width="0.3">30</text>
<text x="172.20" y="229.90" font-size="9.4" text-anchor="end" fill="#222" stroke="#222" stroke-width="0.3">40</text>
<line x1="178.80" y1="327.50" x2="240.50" y2="327.50" stroke="#333" stroke-width="1"/>
<rect x="190.90" y="264.80" width="6.10" height="62.70" fill="#fff" stroke="#333" stroke-width="0.9"/>
<line x1="194.00" y1="262.00" x2="194.00" y2="267.10" stroke="#222" stroke-width="1"/>
<line x1="192.10" y1="262.00" x2="195.90" y2="262.00" stroke="#222" stroke-width="1"/>
<line x1="192.10" y1="267.10" x2="195.90" y2="267.10" stroke="#222" stroke-width="1"/>
<rect x="207.10" y="246.00" width="5.90" height="81.50" fill="#808080"/>
<line x1="210.00" y1="241.60" x2="210.00" y2="249.40" stroke="#333" stroke-width="1"/>
<line x1="208.10" y1="241.60" x2="211.90" y2="241.60" stroke="#333" stroke-width="1"/>
<line x1="208.10" y1="249.40" x2="211.90" y2="249.40" stroke="#333" stroke-width="1"/>
<rect x="223.00" y="246.60" width="6.00" height="80.90" fill="#000"/>
<line x1="226.00" y1="238.90" x2="226.00" y2="246.60" stroke="#333" stroke-width="1"/>
<line x1="224.10" y1="238.90" x2="227.90" y2="238.90" stroke="#333" stroke-width="1"/>
<line x1="224.10" y1="246.60" x2="227.90" y2="246.60" stroke="#333" stroke-width="1"/>
<text x="193.10" y="255.30" font-size="8.3" text-anchor="middle" fill="#222" stroke="#222" stroke-width="0.2">8</text>
<text x="209.75" y="236.20" font-size="8.3" text-anchor="middle" fill="#222" stroke="#222" stroke-width="0.2">9</text>
<text x="225.90" y="234.60" font-size="8.3" text-anchor="middle" fill="#222" stroke="#222" stroke-width="0.2">5</text>
<text x="193.60" y="341.50" font-size="9.4" text-anchor="middle" fill="#222" stroke="#222" stroke-width="0.3">2</text>
<text x="209.00" y="341.50" font-size="9.4" text-anchor="middle" fill="#222" stroke="#222" stroke-width="0.3">3</text>
<text x="224.90" y="341.50" font-size="9.4" text-anchor="middle" fill="#222" stroke="#222" stroke-width="0.3">4</text>
<text x="193.50" y="355.00" font-size="12.3" text-anchor="start" fill="#222" stroke="#222" stroke-width="0.3" textLength="36.50" lengthAdjust="spacingAndGlyphs">weeks</text>
<text transform="translate(152.40,273.00) rotate(-90)" x="0" y="0" font-size="12.3" text-anchor="middle" fill="#222" stroke="#222" stroke-width="0.3" textLength="23.60" lengthAdjust="spacingAndGlyphs">(pA)</text>
<line x1="307.70" y1="226.30" x2="307.70" y2="328.20" stroke="#333" stroke-width="1"/>
<line x1="305.10" y1="328.20" x2="307.70" y2="328.20" stroke="#333" stroke-width="1"/>
<line x1="305.10" y1="317.96" x2="307.70" y2="317.96" stroke="#333" stroke-width="1"/>
<line x1="305.10" y1="307.72" x2="307.70" y2="307.72" stroke="#333" stroke-width="1"/>
<line x1="305.10" y1="297.48" x2="307.70" y2="297.48" stroke="#333" stroke-width="1"/>
<line x1="305.10" y1="287.24" x2="307.70" y2="287.24" stroke="#333" stroke-width="1"/>
<line x1="305.10" y1="277.00" x2="307.70" y2="277.00" stroke="#333" stroke-width="1"/>
<line x1="305.10" y1="266.76" x2="307.70" y2="266.76" stroke="#333" stroke-width="1"/>
<line x1="305.10" y1="256.52" x2="307.70" y2="256.52" stroke="#333" stroke-width="1"/>
<line x1="305.10" y1="246.28" x2="307.70" y2="246.28" stroke="#333" stroke-width="1"/>
<line x1="305.10" y1="236.04" x2="307.70" y2="236.04" stroke="#333" stroke-width="1"/>
<line x1="305.10" y1="225.80" x2="307.70" y2="225.80" stroke="#333" stroke-width="1"/>
<text x="298.40" y="331.50" font-size="9.4" text-anchor="end" fill="#222" stroke="#222" stroke-width="0.3">0</text>
<text x="298.40" y="311.02" font-size="9.4" text-anchor="end" fill="#222" stroke="#222" stroke-width="0.3">0.2</text>
<text x="298.40" y="290.54" font-size="9.4" text-anchor="end" fill="#222" stroke="#222" stroke-width="0.3">0.4</text>
<text x="298.40" y="270.06" font-size="9.4" text-anchor="end" fill="#222" stroke="#222" stroke-width="0.3">0.6</text>
<text x="298.40" y="249.58" font-size="9.4" text-anchor="end" fill="#222" stroke="#222" stroke-width="0.3">0.8</text>
<text x="298.40" y="229.10" font-size="9.4" text-anchor="end" fill="#222" stroke="#222" stroke-width="0.3">1</text>
<line x1="307.20" y1="328.20" x2="368.50" y2="328.20" stroke="#333" stroke-width="1"/>
<rect x="318.90" y="314.30" width="5.80" height="13.90" fill="#fff" stroke="#333" stroke-width="0.9"/>
<line x1="321.80" y1="313.20" x2="321.80" y2="315.20" stroke="#222" stroke-width="1"/>
<line x1="319.90" y1="313.20" x2="323.70" y2="313.20" stroke="#222" stroke-width="1"/>
<line x1="319.90" y1="315.20" x2="323.70" y2="315.20" stroke="#222" stroke-width="1"/>
<rect x="334.60" y="305.00" width="6.40" height="23.20" fill="#808080"/>
<line x1="337.80" y1="298.20" x2="337.80" y2="311.80" stroke="#333" stroke-width="1"/>
<line x1="335.90" y1="298.20" x2="339.70" y2="298.20" stroke="#333" stroke-width="1"/>
<line x1="335.90" y1="311.80" x2="339.70" y2="311.80" stroke="#333" stroke-width="1"/>
<rect x="350.40" y="277.80" width="7.20" height="50.40" fill="#000"/>
<line x1="354.00" y1="255.50" x2="354.00" y2="277.80" stroke="#777" stroke-width="1"/>
<line x1="352.10" y1="255.50" x2="355.90" y2="255.50" stroke="#777" stroke-width="1"/>
<line x1="352.10" y1="277.80" x2="355.90" y2="277.80" stroke="#777" stroke-width="1"/>
<text x="321.50" y="307.10" font-size="8.3" text-anchor="middle" fill="#222" stroke="#222" stroke-width="0.2">8</text>
<text x="337.10" y="291.10" font-size="8.3" text-anchor="middle" fill="#222" stroke="#222" stroke-width="0.2">9</text>
<text x="353.10" y="250.00" font-size="8.3" text-anchor="middle" fill="#222" stroke="#222" stroke-width="0.2">5</text>
<text x="321.60" y="341.50" font-size="9.4" text-anchor="middle" fill="#222" stroke="#222" stroke-width="0.3">2</text>
<text x="337.20" y="341.50" font-size="9.4" text-anchor="middle" fill="#222" stroke="#222" stroke-width="0.3">3</text>
<text x="353.30" y="341.50" font-size="9.4" text-anchor="middle" fill="#222" stroke="#222" stroke-width="0.3">4</text>
<text x="323.00" y="354.60" font-size="12.3" text-anchor="start" fill="#222" stroke="#222" stroke-width="0.3" textLength="36.20" lengthAdjust="spacingAndGlyphs">weeks</text>
<text transform="translate(278.20,271.00) rotate(-90)" x="0" y="0" font-size="12.3" text-anchor="middle" fill="#222" stroke="#222" stroke-width="0.3" textLength="104.80" lengthAdjust="spacingAndGlyphs">(N of events / sec)</text>
<path d="M448.97,140.75 L448.97,135.62 L451.61,135.62 L451.61,125.38 L454.25,125.38 L454.25,104.88 L456.89,104.88 L456.89,76.17 L459.53,76.17 L459.53,54.39 L462.17,54.39 L462.17,61.06 L464.81,61.06 L464.81,64.64 L467.45,64.64 L467.45,61.06 L470.09,61.06 L470.09,71.05 L472.73,71.05 L472.73,81.30 L475.37,81.30 L475.37,94.37 L478.01,94.37 L478.01,100.26 L480.65,100.26 L480.65,113.20 L483.29,113.20 L483.29,114.61 L485.93,114.61 L485.93,114.61 L488.57,114.61 L488.57,123.84 L491.21,123.84 L491.21,123.84 L493.85,123.84 L493.85,129.09 L496.49,129.09 L496.49,131.14 L499.13,131.14 L499.13,131.14 L501.77,131.14 L501.77,135.11 L504.41,135.11 L504.41,135.11 L507.05,135.11 L507.05,135.11 L509.69,135.11 L509.69,135.62 L512.33,135.62 L512.33,136.39 L514.97,136.39 L514.97,138.44 L517.61,138.44 L517.61,138.44 L520.25,138.44 L520.25,138.44 L522.89,138.44 L522.89,139.72 L525.53,139.72 L525.53,138.44 L528.17,138.44 L528.17,139.72 L530.81,139.72 L530.81,138.96 L533.45,138.96 L533.45,139.72 L536.09,139.72 L536.09,139.72 L538.73,139.72 L538.73,139.98 L541.37,139.98 L541.37,140.37 L544.01,140.37 L544.01,140.37 L546.65,140.37 L546.65,140.37 L549.29,140.37 L549.29,140.37 L551.93,140.37 L551.93,140.37 L554.57,140.37 L554.57,140.37 L557.21,140.37 L557.21,140.37 L559.85,140.37 L559.85,140.37 L562.49,140.37 L562.49,140.37 L565.13,140.37 L565.13,140.37 L567.77,140.37 L567.77,140.75 Z" fill="#000"/>
<path d="M446.33,140.75 L446.33,137.42 L448.97,137.42 L448.97,116.15 L451.61,116.15 L451.61,98.98 L454.25,98.98 L454.25,89.50 L456.89,89.50 L456.89,88.47 L459.53,88.47 L459.53,96.93 L462.17,96.93 L462.17,109.74 L464.81,109.74 L464.81,115.12 L467.45,115.12 L467.45,120.51 L470.09,120.51 L470.09,125.89 L472.73,125.89 L472.73,131.14 L475.37,131.14 L475.37,131.14 L478.01,131.14 L478.01,133.83 L480.65,133.83 L480.65,133.83 L483.29,133.83 L483.29,136.39 L485.93,136.39 L485.93,136.39 L488.57,136.39 L488.57,138.44 L491.21,138.44 L491.21,138.70 L493.85,138.70 L493.85,139.21 L496.49,139.21 L496.49,139.47 L499.13,139.47 L499.13,139.72 L501.77,139.72 L501.77,139.98 L504.41,139.98 L504.41,140.24 L507.05,140.24 L507.05,140.37 L509.69,140.37 L509.69,140.75 Z" fill="#808080"/>
<rect x="448.97" y="138.70" width="2.64" height="2.05" fill="#fff"/>
<rect x="451.61" y="130.50" width="2.64" height="10.25" fill="#fff"/>
<rect x="454.25" y="121.02" width="2.64" height="19.73" fill="#fff"/>
<rect x="456.89" y="118.20" width="2.64" height="22.55" fill="#fff"/>
<rect x="459.53" y="118.97" width="2.64" height="21.78" fill="#fff"/>
<rect x="462.17" y="123.07" width="2.64" height="17.68" fill="#fff"/>
<rect x="464.81" y="127.94" width="2.64" height="12.81" fill="#fff"/>
<rect x="467.45" y="132.55" width="2.64" height="8.20" fill="#fff"/>
<rect x="470.09" y="134.22" width="2.64" height="6.53" fill="#fff"/>
<rect x="472.73" y="135.88" width="2.64" height="4.87" fill="#fff"/>
<rect x="475.37" y="137.16" width="2.64" height="3.59" fill="#fff"/>
<rect x="478.01" y="138.44" width="2.64" height="2.31" fill="#fff"/>
<rect x="480.65" y="138.57" width="2.64" height="2.18" fill="#fff"/>
<rect x="483.29" y="139.72" width="2.64" height="1.03" fill="#fff"/>
<path d="M448.97,140.75 L448.97,138.70 L451.61,138.70 L451.61,140.75 M451.61,140.75 L451.61,130.50 L454.25,130.50 L454.25,140.75 M454.25,140.75 L454.25,121.02 L456.89,121.02 L456.89,140.75 M456.89,140.75 L456.89,118.20 L459.53,118.20 L459.53,140.75 M459.53,140.75 L459.53,118.97 L462.17,118.97 L462.17,140.75 M462.17,140.75 L462.17,123.07 L464.81,123.07 L464.81,140.75 M464.81,140.75 L464.81,127.94 L467.45,127.94 L467.45,140.75 M467.45,140.75 L467.45,132.55 L470.09,132.55 L470.09,140.75 M470.09,140.75 L470.09,134.22 L472.73,134.22 L472.73,140.75 M472.73,140.75 L472.73,135.88 L475.37,135.88 L475.37,140.75 M475.37,140.75 L475.37,137.16 L478.01,137.16 L478.01,140.75 M478.01,140.75 L478.01,138.44 L480.65,138.44 L480.65,140.75 M480.65,140.75 L480.65,138.57 L483.29,138.57 L483.29,140.75 M483.29,140.75 L483.29,139.72 L485.93,139.72 L485.93,140.75 " fill="none" stroke="#111" stroke-width="0.6"/>
<path d="M443.69,327.90 L443.69,308.85 L446.33,308.85 L446.33,294.25 L448.97,294.25 L448.97,261.22 L451.61,261.22 L451.61,267.89 L454.25,267.89 L454.25,264.40 L456.89,264.40 L456.89,277.73 L459.53,277.73 L459.53,291.39 L462.17,291.39 L462.17,291.39 L464.81,291.39 L464.81,299.32 L467.45,299.32 L467.45,302.50 L470.09,302.50 L470.09,305.67 L472.73,305.67 L472.73,308.85 L475.37,308.85 L475.37,310.12 L478.01,310.12 L478.01,312.02 L480.65,312.02 L480.65,313.29 L483.29,313.29 L483.29,312.02 L485.93,312.02 L485.93,314.25 L488.57,314.25 L488.57,314.88 L491.21,314.88 L491.21,321.55 L493.85,321.55 L493.85,316.47 L496.49,316.47 L496.49,314.25 L499.13,314.25 L499.13,324.72 L501.77,324.72 L501.77,326.00 L504.41,326.00 L504.41,326.00 L507.05,326.00 L507.05,323.77 L509.69,323.77 L509.69,327.90 Z" fill="#000"/>
<path d="M456.89,327.90 L456.89,321.55 L459.53,321.55 L459.53,306.94 L462.17,306.94 L462.17,293.61 L464.81,293.61 L464.81,293.61 L467.45,293.61 L467.45,282.18 L470.09,282.18 L470.09,293.61 L472.73,293.61 L472.73,300.28 L475.37,300.28 L475.37,305.04 L478.01,305.04 L478.01,309.17 L480.65,309.17 L480.65,310.12 L483.29,310.12 L483.29,313.93 L485.93,313.93 L485.93,319.64 L488.57,319.64 L488.57,319.64 L491.21,319.64 L491.21,320.60 L493.85,320.60 L493.85,318.38 L496.49,318.38 L496.49,318.38 L499.13,318.38 L499.13,324.72 L501.77,324.72 L501.77,323.14 L504.41,323.14 L504.41,325.36 L507.05,325.36 L507.05,327.26 L509.69,327.26 L509.69,326.00 L512.33,326.00 L512.33,326.00 L514.97,326.00 L514.97,326.00 L517.61,326.00 L517.61,326.31 L520.25,326.31 L520.25,326.63 L522.89,326.63 L522.89,326.95 L525.53,326.95 L525.53,327.90 Z" fill="#808080"/>
<rect x="441.05" y="308.21" width="2.64" height="19.68" fill="#fff"/>
<rect x="443.69" y="313.93" width="2.64" height="13.97" fill="#fff"/>
<rect x="446.33" y="308.85" width="2.64" height="19.05" fill="#fff"/>
<rect x="448.97" y="298.69" width="2.64" height="29.21" fill="#fff"/>
<rect x="451.61" y="313.93" width="2.64" height="13.97" fill="#fff"/>
<rect x="454.25" y="296.15" width="2.64" height="31.75" fill="#fff"/>
<rect x="456.89" y="321.87" width="2.64" height="6.03" fill="#fff"/>
<rect x="459.53" y="319.64" width="2.64" height="8.25" fill="#fff"/>
<rect x="462.17" y="324.09" width="2.64" height="3.81" fill="#fff"/>
<rect x="464.81" y="324.09" width="2.64" height="3.81" fill="#fff"/>
<rect x="467.45" y="324.09" width="2.64" height="3.81" fill="#fff"/>
<rect x="470.09" y="326.31" width="2.64" height="1.59" fill="#fff"/>
<rect x="478.01" y="325.68" width="2.64" height="2.22" fill="#fff"/>
<rect x="483.29" y="325.68" width="2.64" height="2.22" fill="#fff"/>
<rect x="536.09" y="326.31" width="2.64" height="1.59" fill="#fff"/>
<rect x="538.73" y="326.31" width="2.64" height="1.59" fill="#fff"/>
<rect x="546.65" y="326.31" width="2.64" height="1.59" fill="#fff"/>
<rect x="549.29" y="326.63" width="2.64" height="1.27" fill="#fff"/>
<path d="M441.05,327.90 L441.05,308.21 L443.69,308.21 L443.69,327.90 M443.69,327.90 L443.69,313.93 L446.33,313.93 L446.33,327.90 M446.33,327.90 L446.33,308.85 L448.97,308.85 L448.97,327.90 M448.97,327.90 L448.97,298.69 L451.61,298.69 L451.61,327.90 M451.61,327.90 L451.61,313.93 L454.25,313.93 L454.25,327.90 M454.25,327.90 L454.25,296.15 L456.89,296.15 L456.89,327.90 M456.89,327.90 L456.89,321.87 L459.53,321.87 L459.53,327.90 M459.53,327.90 L459.53,319.64 L462.17,319.64 L462.17,327.90 M462.17,327.90 L462.17,324.09 L464.81,324.09 L464.81,327.90 M464.81,327.90 L464.81,324.09 L467.45,324.09 L467.45,327.90 M467.45,327.90 L467.45,324.09 L470.09,324.09 L470.09,327.90 M470.09,327.90 L470.09,326.31 L472.73,326.31 L472.73,327.90 M478.01,327.90 L478.01,325.68 L480.65,325.68 L480.65,327.90 M483.29,327.90 L483.29,325.68 L485.93,325.68 L485.93,327.90 M536.09,327.90 L536.09,326.31 L538.73,326.31 L538.73,327.90 M538.73,327.90 L538.73,326.31 L541.37,326.31 L541.37,327.90 M546.65,327.90 L546.65,326.31 L549.29,326.31 L549.29,327.90 M549.29,327.90 L549.29,326.63 L551.93,326.63 L551.93,327.90 " fill="none" stroke="#111" stroke-width="0.6"/>
<line x1="433.40" y1="38.25" x2="433.40" y2="141.25" stroke="#333" stroke-width="1"/>
<line x1="432.00" y1="140.75" x2="433.40" y2="140.75" stroke="#333" stroke-width="1"/>
<line x1="432.00" y1="127.94" x2="433.40" y2="127.94" stroke="#333" stroke-width="1"/>
<line x1="432.00" y1="115.12" x2="433.40" y2="115.12" stroke="#333" stroke-width="1"/>
<line x1="432.00" y1="102.31" x2="433.40" y2="102.31" stroke="#333" stroke-width="1"/>
<line x1="432.00" y1="89.50" x2="433.40" y2="89.50" stroke="#333" stroke-width="1"/>
<line x1="432.00" y1="76.69" x2="433.40" y2="76.69" stroke="#333" stroke-width="1"/>
<line x1="432.00" y1="63.88" x2="433.40" y2="63.88" stroke="#333" stroke-width="1"/>
<line x1="432.00" y1="51.06" x2="433.40" y2="51.06" stroke="#333" stroke-width="1"/>
<line x1="432.00" y1="38.25" x2="433.40" y2="38.25" stroke="#333" stroke-width="1"/>
<text x="426.80" y="144.05" font-size="9.4" text-anchor="end" fill="#222" stroke="#222" stroke-width="0.3">0</text>
<text x="426.80" y="118.42" font-size="9.4" text-anchor="end" fill="#222" stroke="#222" stroke-width="0.3">10</text>
<text x="426.80" y="92.80" font-size="9.4" text-anchor="end" fill="#222" stroke="#222" stroke-width="0.3">20</text>
<text x="426.80" y="67.17" font-size="9.4" text-anchor="end" fill="#222" stroke="#222" stroke-width="0.3">30</text>
<text x="426.80" y="41.55" font-size="9.4" text-anchor="end" fill="#222" stroke="#222" stroke-width="0.3">40</text>
<line x1="433.00" y1="140.75" x2="567.80" y2="140.75" stroke="#333" stroke-width="1"/>
<line x1="433.13" y1="140.75" x2="433.13" y2="142.95" stroke="#333" stroke-width="0.8"/>
<line x1="435.77" y1="140.75" x2="435.77" y2="142.95" stroke="#333" stroke-width="0.8"/>
<line x1="438.41" y1="140.75" x2="438.41" y2="142.95" stroke="#333" stroke-width="0.8"/>
<line x1="441.05" y1="140.75" x2="441.05" y2="142.95" stroke="#333" stroke-width="0.8"/>
<line x1="443.69" y1="140.75" x2="443.69" y2="142.95" stroke="#333" stroke-width="0.8"/>
<line x1="446.33" y1="140.75" x2="446.33" y2="142.95" stroke="#333" stroke-width="0.8"/>
<line x1="448.97" y1="140.75" x2="448.97" y2="142.95" stroke="#333" stroke-width="0.8"/>
<line x1="451.61" y1="140.75" x2="451.61" y2="142.95" stroke="#333" stroke-width="0.8"/>
<line x1="454.25" y1="140.75" x2="454.25" y2="142.95" stroke="#333" stroke-width="0.8"/>
<line x1="456.89" y1="140.75" x2="456.89" y2="142.95" stroke="#333" stroke-width="0.8"/>
<line x1="459.53" y1="140.75" x2="459.53" y2="142.95" stroke="#333" stroke-width="0.8"/>
<line x1="462.17" y1="140.75" x2="462.17" y2="142.95" stroke="#333" stroke-width="0.8"/>
<line x1="464.81" y1="140.75" x2="464.81" y2="142.95" stroke="#333" stroke-width="0.8"/>
<line x1="467.45" y1="140.75" x2="467.45" y2="142.95" stroke="#333" stroke-width="0.8"/>
<line x1="470.09" y1="140.75" x2="470.09" y2="142.95" stroke="#333" stroke-width="0.8"/>
<line x1="472.73" y1="140.75" x2="472.73" y2="142.95" stroke="#333" stroke-width="0.8"/>
<line x1="475.37" y1="140.75" x2="475.37" y2="142.95" stroke="#333" stroke-width="0.8"/>
<line x1="478.01" y1="140.75" x2="478.01" y2="142.95" stroke="#333" stroke-width="0.8"/>
<line x1="480.65" y1="140.75" x2="480.65" y2="142.95" stroke="#333" stroke-width="0.8"/>
<line x1="483.29" y1="140.75" x2="483.29" y2="142.95" stroke="#333" stroke-width="0.8"/>
<line x1="485.93" y1="140.75" x2="485.93" y2="142.95" stroke="#333" stroke-width="0.8"/>
<line x1="488.57" y1="140.75" x2="488.57" y2="142.95" stroke="#333" stroke-width="0.8"/>
<line x1="491.21" y1="140.75" x2="491.21" y2="142.95" stroke="#333" stroke-width="0.8"/>
<line x1="493.85" y1="140.75" x2="493.85" y2="142.95" stroke="#333" stroke-width="0.8"/>
<line x1="496.49" y1="140.75" x2="496.49" y2="142.95" stroke="#333" stroke-width="0.8"/>
<line x1="499.13" y1="140.75" x2="499.13" y2="142.95" stroke="#333" stroke-width="0.8"/>
<line x1="501.77" y1="140.75" x2="501.77" y2="142.95" stroke="#333" stroke-width="0.8"/>
<line x1="504.41" y1="140.75" x2="504.41" y2="142.95" stroke="#333" stroke-width="0.8"/>
<line x1="507.05" y1="140.75" x2="507.05" y2="142.95" stroke="#333" stroke-width="0.8"/>
<line x1="509.69" y1="140.75" x2="509.69" y2="142.95" stroke="#333" stroke-width="0.8"/>
<line x1="512.33" y1="140.75" x2="512.33" y2="142.95" stroke="#333" stroke-width="0.8"/>
<line x1="514.97" y1="140.75" x2="514.97" y2="142.95" stroke="#333" stroke-width="0.8"/>
<line x1="517.61" y1="140.75" x2="517.61" y2="142.95" stroke="#333" stroke-width="0.8"/>
<line x1="520.25" y1="140.75" x2="520.25" y2="142.95" stroke="#333" stroke-width="0.8"/>
<line x1="522.89" y1="140.75" x2="522.89" y2="142.95" stroke="#333" stroke-width="0.8"/>
<line x1="525.53" y1="140.75" x2="525.53" y2="142.95" stroke="#333" stroke-width="0.8"/>
<line x1="528.17" y1="140.75" x2="528.17" y2="142.95" stroke="#333" stroke-width="0.8"/>
<line x1="530.81" y1="140.75" x2="530.81" y2="142.95" stroke="#333" stroke-width="0.8"/>
<line x1="533.45" y1="140.75" x2="533.45" y2="142.95" stroke="#333" stroke-width="0.8"/>
<line x1="536.09" y1="140.75" x2="536.09" y2="142.95" stroke="#333" stroke-width="0.8"/>
<line x1="538.73" y1="140.75" x2="538.73" y2="142.95" stroke="#333" stroke-width="0.8"/>
<line x1="541.37" y1="140.75" x2="541.37" y2="142.95" stroke="#333" stroke-width="0.8"/>
<line x1="544.01" y1="140.75" x2="544.01" y2="142.95" stroke="#333" stroke-width="0.8"/>
<line x1="546.65" y1="140.75" x2="546.65" y2="142.95" stroke="#333" stroke-width="0.8"/>
<line x1="549.29" y1="140.75" x2="549.29" y2="142.95" stroke="#333" stroke-width="0.8"/>
<line x1="551.93" y1="140.75" x2="551.93" y2="142.95" stroke="#333" stroke-width="0.8"/>
<line x1="554.57" y1="140.75" x2="554.57" y2="142.95" stroke="#333" stroke-width="0.8"/>
<line x1="557.21" y1="140.75" x2="557.21" y2="142.95" stroke="#333" stroke-width="0.8"/>
<line x1="559.85" y1="140.75" x2="559.85" y2="142.95" stroke="#333" stroke-width="0.8"/>
<line x1="562.49" y1="140.75" x2="562.49" y2="142.95" stroke="#333" stroke-width="0.8"/>
<line x1="565.13" y1="140.75" x2="565.13" y2="142.95" stroke="#333" stroke-width="0.8"/>
<line x1="567.77" y1="140.75" x2="567.77" y2="142.95" stroke="#333" stroke-width="0.8"/>
<text x="434.45" y="152.25" font-size="9.4" text-anchor="middle" fill="#222" stroke="#222" stroke-width="0.3">0</text>
<text x="467.45" y="152.25" font-size="9.4" text-anchor="middle" fill="#222" stroke="#222" stroke-width="0.3">25</text>
<text x="500.45" y="152.25" font-size="9.4" text-anchor="middle" fill="#222" stroke="#222" stroke-width="0.3">50</text>
<text x="533.45" y="152.25" font-size="9.4" text-anchor="middle" fill="#222" stroke="#222" stroke-width="0.3">75</text>
<text x="566.45" y="152.25" font-size="9.4" text-anchor="middle" fill="#222" stroke="#222" stroke-width="0.3">100</text>
<line x1="433.40" y1="226.30" x2="433.40" y2="328.40" stroke="#333" stroke-width="1"/>
<line x1="432.00" y1="327.90" x2="433.40" y2="327.90" stroke="#333" stroke-width="1"/>
<line x1="432.00" y1="315.20" x2="433.40" y2="315.20" stroke="#333" stroke-width="1"/>
<line x1="432.00" y1="302.50" x2="433.40" y2="302.50" stroke="#333" stroke-width="1"/>
<line x1="432.00" y1="289.80" x2="433.40" y2="289.80" stroke="#333" stroke-width="1"/>
<line x1="432.00" y1="277.10" x2="433.40" y2="277.10" stroke="#333" stroke-width="1"/>
<line x1="432.00" y1="264.40" x2="433.40" y2="264.40" stroke="#333" stroke-width="1"/>
<line x1="432.00" y1="251.70" x2="433.40" y2="251.70" stroke="#333" stroke-width="1"/>
<line x1="432.00" y1="239.00" x2="433.40" y2="239.00" stroke="#333" stroke-width="1"/>
<line x1="432.00" y1="226.30" x2="433.40" y2="226.30" stroke="#333" stroke-width="1"/>
<text x="426.80" y="331.20" font-size="9.4" text-anchor="end" fill="#222" stroke="#222" stroke-width="0.3">0</text>
<text x="426.80" y="305.80" font-size="9.4" text-anchor="end" fill="#222" stroke="#222" stroke-width="0.3">4</text>
<text x="426.80" y="280.40" font-size="9.4" text-anchor="end" fill="#222" stroke="#222" stroke-width="0.3">8</text>
<text x="426.80" y="255.00" font-size="9.4" text-anchor="end" fill="#222" stroke="#222" stroke-width="0.3">12</text>
<text x="426.80" y="229.60" font-size="9.4" text-anchor="end" fill="#222" stroke="#222" stroke-width="0.3">16</text>
<line x1="433.00" y1="327.90" x2="567.80" y2="327.90" stroke="#333" stroke-width="1"/>
<line x1="433.13" y1="327.90" x2="433.13" y2="330.10" stroke="#333" stroke-width="0.8"/>
<line x1="435.77" y1="327.90" x2="435.77" y2="330.10" stroke="#333" stroke-width="0.8"/>
<line x1="438.41" y1="327.90" x2="438.41" y2="330.10" stroke="#333" stroke-width="0.8"/>
<line x1="441.05" y1="327.90" x2="441.05" y2="330.10" stroke="#333" stroke-width="0.8"/>
<line x1="443.69" y1="327.90" x2="443.69" y2="330.10" stroke="#333" stroke-width="0.8"/>
<line x1="446.33" y1="327.90" x2="446.33" y2="330.10" stroke="#333" stroke-width="0.8"/>
<line x1="448.97" y1="327.90" x2="448.97" y2="330.10" stroke="#333" stroke-width="0.8"/>
<line x1="451.61" y1="327.90" x2="451.61" y2="330.10" stroke="#333" stroke-width="0.8"/>
<line x1="454.25" y1="327.90" x2="454.25" y2="330.10" stroke="#333" stroke-width="0.8"/>
<line x1="456.89" y1="327.90" x2="456.89" y2="330.10" stroke="#333" stroke-width="0.8"/>
<line x1="459.53" y1="327.90" x2="459.53" y2="330.10" stroke="#333" stroke-width="0.8"/>
<line x1="462.17" y1="327.90" x2="462.17" y2="330.10" stroke="#333" stroke-width="0.8"/>
<line x1="464.81" y1="327.90" x2="464.81" y2="330.10" stroke="#333" stroke-width="0.8"/>
<line x1="467.45" y1="327.90" x2="467.45" y2="330.10" stroke="#333" stroke-width="0.8"/>
<line x1="470.09" y1="327.90" x2="470.09" y2="330.10" stroke="#333" stroke-width="0.8"/>
<line x1="472.73" y1="327.90" x2="472.73" y2="330.10" stroke="#333" stroke-width="0.8"/>
<line x1="475.37" y1="327.90" x2="475.37" y2="330.10" stroke="#333" stroke-width="0.8"/>
<line x1="478.01" y1="327.90" x2="478.01" y2="330.10" stroke="#333" stroke-width="0.8"/>
<line x1="480.65" y1="327.90" x2="480.65" y2="330.10" stroke="#333" stroke-width="0.8"/>
<line x1="483.29" y1="327.90" x2="483.29" y2="330.10" stroke="#333" stroke-width="0.8"/>
<line x1="485.93" y1="327.90" x2="485.93" y2="330.10" stroke="#333" stroke-width="0.8"/>
<line x1="488.57" y1="327.90" x2="488.57" y2="330.10" stroke="#333" stroke-width="0.8"/>
<line x1="491.21" y1="327.90" x2="491.21" y2="330.10" stroke="#333" stroke-width="0.8"/>
<line x1="493.85" y1="327.90" x2="493.85" y2="330.10" stroke="#333" stroke-width="0.8"/>
<line x1="496.49" y1="327.90" x2="496.49" y2="330.10" stroke="#333" stroke-width="0.8"/>
<line x1="499.13" y1="327.90" x2="499.13" y2="330.10" stroke="#333" stroke-width="0.8"/>
<line x1="501.77" y1="327.90" x2="501.77" y2="330.10" stroke="#333" stroke-width="0.8"/>
<line x1="504.41" y1="327.90" x2="504.41" y2="330.10" stroke="#333" stroke-width="0.8"/>
<line x1="507.05" y1="327.90" x2="507.05" y2="330.10" stroke="#333" stroke-width="0.8"/>
<line x1="509.69" y1="327.90" x2="509.69" y2="330.10" stroke="#333" stroke-width="0.8"/>
<line x1="512.33" y1="327.90" x2="512.33" y2="330.10" stroke="#333" stroke-width="0.8"/>
<line x1="514.97" y1="327.90" x2="514.97" y2="330.10" stroke="#333" stroke-width="0.8"/>
<line x1="517.61" y1="327.90" x2="517.61" y2="330.10" stroke="#333" stroke-width="0.8"/>
<line x1="520.25" y1="327.90" x2="520.25" y2="330.10" stroke="#333" stroke-width="0.8"/>
<line x1="522.89" y1="327.90" x2="522.89" y2="330.10" stroke="#333" stroke-width="0.8"/>
<line x1="525.53" y1="327.90" x2="525.53" y2="330.10" stroke="#333" stroke-width="0.8"/>
<line x1="528.17" y1="327.90" x2="528.17" y2="330.10" stroke="#333" stroke-width="0.8"/>
<line x1="530.81" y1="327.90" x2="530.81" y2="330.10" stroke="#333" stroke-width="0.8"/>
<line x1="533.45" y1="327.90" x2="533.45" y2="330.10" stroke="#333" stroke-width="0.8"/>
<line x1="536.09" y1="327.90" x2="536.09" y2="330.10" stroke="#333" stroke-width="0.8"/>
<line x1="538.73" y1="327.90" x2="538.73" y2="330.10" stroke="#333" stroke-width="0.8"/>
<line x1="541.37" y1="327.90" x2="541.37" y2="330.10" stroke="#333" stroke-width="0.8"/>
<line x1="544.01" y1="327.90" x2="544.01" y2="330.10" stroke="#333" stroke-width="0.8"/>
<line x1="546.65" y1="327.90" x2="546.65" y2="330.10" stroke="#333" stroke-width="0.8"/>
<line x1="549.29" y1="327.90" x2="549.29" y2="330.10" stroke="#333" stroke-width="0.8"/>
<line x1="551.93" y1="327.90" x2="551.93" y2="330.10" stroke="#333" stroke-width="0.8"/>
<line x1="554.57" y1="327.90" x2="554.57" y2="330.10" stroke="#333" stroke-width="0.8"/>
<line x1="557.21" y1="327.90" x2="557.21" y2="330.10" stroke="#333" stroke-width="0.8"/>
<line x1="559.85" y1="327.90" x2="559.85" y2="330.10" stroke="#333" stroke-width="0.8"/>
<line x1="562.49" y1="327.90" x2="562.49" y2="330.10" stroke="#333" stroke-width="0.8"/>
<line x1="565.13" y1="327.90" x2="565.13" y2="330.10" stroke="#333" stroke-width="0.8"/>
<line x1="567.77" y1="327.90" x2="567.77" y2="330.10" stroke="#333" stroke-width="0.8"/>
<text x="434.45" y="339.40" font-size="9.4" text-anchor="middle" fill="#222" stroke="#222" stroke-width="0.3">0</text>
<text x="467.45" y="339.40" font-size="9.4" text-anchor="middle" fill="#222" stroke="#222" stroke-width="0.3">25</text>
<text x="500.45" y="339.40" font-size="9.4" text-anchor="middle" fill="#222" stroke="#222" stroke-width="0.3">50</text>
<text x="533.45" y="339.40" font-size="9.4" text-anchor="middle" fill="#222" stroke="#222" stroke-width="0.3">75</text>
<text x="566.45" y="339.40" font-size="9.4" text-anchor="middle" fill="#222" stroke="#222" stroke-width="0.3">100</text>
<rect x="517.40" y="41.80" width="4.60" height="5.10" fill="#fff" stroke="#333" stroke-width="0.9"/>
<text x="526.00" y="47.70" font-size="9.2" text-anchor="start" fill="#222" stroke="#222" stroke-width="0.3" textLength="32.30" lengthAdjust="spacingAndGlyphs">2 weeks</text>
<rect x="516.90" y="58.20" width="5.60" height="5.60" fill="#808080"/>
<text x="526.00" y="64.10" font-size="9.2" text-anchor="start" fill="#222" stroke="#222" stroke-width="0.3" textLength="32.30" lengthAdjust="spacingAndGlyphs">3 weeks</text>
<rect x="516.90" y="75.00" width="5.60" height="5.60" fill="#000"/>
<text x="526.00" y="80.90" font-size="9.2" text-anchor="start" fill="#222" stroke="#222" stroke-width="0.3" textLength="32.30" lengthAdjust="spacingAndGlyphs">4 weeks</text>
<rect x="517.40" y="229.80" width="4.60" height="5.10" fill="#fff" stroke="#333" stroke-width="0.9"/>
<text x="526.00" y="235.70" font-size="9.2" text-anchor="start" fill="#222" stroke="#222" stroke-width="0.3" textLength="32.30" lengthAdjust="spacingAndGlyphs">2 weeks</text>
<rect x="516.90" y="246.20" width="5.60" height="5.60" fill="#808080"/>
<text x="526.00" y="252.10" font-size="9.2" text-anchor="start" fill="#222" stroke="#222" stroke-width="0.3" textLength="32.30" lengthAdjust="spacingAndGlyphs">3 weeks</text>
<rect x="516.90" y="263.00" width="5.60" height="5.60" fill="#000"/>
<text x="526.00" y="268.90" font-size="9.2" text-anchor="start" fill="#222" stroke="#222" stroke-width="0.3" textLength="32.30" lengthAdjust="spacingAndGlyphs">4 weeks</text>
<text x="466.00" y="166.90" font-size="12.3" text-anchor="start" fill="#222" stroke="#222" stroke-width="0.3" textLength="85.40" lengthAdjust="spacingAndGlyphs">amplitude (pA)</text>
<text x="466.00" y="354.00" font-size="12.3" text-anchor="start" fill="#222" stroke="#222" stroke-width="0.3" textLength="85.40" lengthAdjust="spacingAndGlyphs">amplitude (pA)</text>
<text transform="translate(409.00,84.70) rotate(-90)" x="0" y="0" font-size="12.3" text-anchor="middle" fill="#222" stroke="#222" stroke-width="0.3" textLength="101.80" lengthAdjust="spacingAndGlyphs">number of events</text>
<text transform="translate(409.00,270.00) rotate(-90)" x="0" y="0" font-size="12.3" text-anchor="middle" fill="#222" stroke="#222" stroke-width="0.3" textLength="101.80" lengthAdjust="spacingAndGlyphs">number of events</text>
<line x1="633.00" y1="38.90" x2="633.00" y2="141.90" stroke="#333" stroke-width="1"/>
<line x1="631.20" y1="141.40" x2="633.00" y2="141.40" stroke="#333" stroke-width="1"/>
<line x1="631.20" y1="131.15" x2="633.00" y2="131.15" stroke="#333" stroke-width="1"/>
<line x1="631.20" y1="120.90" x2="633.00" y2="120.90" stroke="#333" stroke-width="1"/>
<line x1="631.20" y1="110.65" x2="633.00" y2="110.65" stroke="#333" stroke-width="1"/>
<line x1="631.20" y1="100.40" x2="633.00" y2="100.40" stroke="#333" stroke-width="1"/>
<line x1="631.20" y1="90.15" x2="633.00" y2="90.15" stroke="#333" stroke-width="1"/>
<line x1="631.20" y1="79.90" x2="633.00" y2="79.90" stroke="#333" stroke-width="1"/>
<line x1="631.20" y1="69.65" x2="633.00" y2="69.65" stroke="#333" stroke-width="1"/>
<line x1="631.20" y1="59.40" x2="633.00" y2="59.40" stroke="#333" stroke-width="1"/>
<line x1="631.20" y1="49.15" x2="633.00" y2="49.15" stroke="#333" stroke-width="1"/>
<line x1="631.20" y1="38.90" x2="633.00" y2="38.90" stroke="#333" stroke-width="1"/>
<text x="625.30" y="144.70" font-size="9.4" text-anchor="end" fill="#222" stroke="#222" stroke-width="0.3">0</text>
<text x="625.30" y="119.08" font-size="9.4" text-anchor="end" fill="#222" stroke="#222" stroke-width="0.3">50</text>
<text x="625.30" y="93.45" font-size="9.4" text-anchor="end" fill="#222" stroke="#222" stroke-width="0.3">100</text>
<text x="625.30" y="67.83" font-size="9.4" text-anchor="end" fill="#222" stroke="#222" stroke-width="0.3">150</text>
<text x="625.30" y="42.20" font-size="9.4" text-anchor="end" fill="#222" stroke="#222" stroke-width="0.3">200</text>
<line x1="632.50" y1="141.40" x2="749.90" y2="141.40" stroke="#333" stroke-width="1"/>
<line x1="633.00" y1="141.40" x2="633.00" y2="143.60" stroke="#333" stroke-width="1"/>
<text x="632.60" y="152.80" font-size="9.4" text-anchor="middle" fill="#222" stroke="#222" stroke-width="0.3">20</text>
<line x1="662.10" y1="141.40" x2="662.10" y2="143.60" stroke="#333" stroke-width="1"/>
<text x="661.70" y="152.80" font-size="9.4" text-anchor="middle" fill="#222" stroke="#222" stroke-width="0.3">25</text>
<line x1="691.20" y1="141.40" x2="691.20" y2="143.60" stroke="#333" stroke-width="1"/>
<text x="690.80" y="152.80" font-size="9.4" text-anchor="middle" fill="#222" stroke="#222" stroke-width="0.3">30</text>
<line x1="720.30" y1="141.40" x2="720.30" y2="143.60" stroke="#333" stroke-width="1"/>
<text x="719.90" y="152.80" font-size="9.4" text-anchor="middle" fill="#222" stroke="#222" stroke-width="0.3">35</text>
<line x1="749.40" y1="141.40" x2="749.40" y2="143.60" stroke="#333" stroke-width="1"/>
<text x="749.00" y="152.80" font-size="9.4" text-anchor="middle" fill="#222" stroke="#222" stroke-width="0.3">40</text>
<line x1="649.60" y1="125.00" x2="724.70" y2="50.90" stroke="#666" stroke-width="1"/>
<circle cx="649.6" cy="120.9" r="2.0" fill="#fff" stroke="#333" stroke-width="0.9"/>
<circle cx="669.1" cy="110.8" r="1.9" fill="#808080"/>
<circle cx="724.7" cy="50.9" r="2.1" fill="#000"/>
<text x="711.30" y="134.80" font-size="9.4" text-anchor="start" fill="#222" stroke="#222" stroke-width="0.3">R</text>
<text x="717.90" y="131.50" font-size="5.2" text-anchor="start" fill="#222" stroke="#222" stroke-width="0.3">2</text>
<text x="723.40" y="134.80" font-size="9.4" text-anchor="start" fill="#222" stroke="#222" stroke-width="0.3" textLength="4.80" lengthAdjust="spacingAndGlyphs">=</text>
<text x="730.60" y="134.80" font-size="9.4" text-anchor="start" fill="#222" stroke="#222" stroke-width="0.3" textLength="24.60" lengthAdjust="spacingAndGlyphs">0.985</text>
<text x="668.50" y="168.00" font-size="12.3" text-anchor="start" fill="#222" stroke="#222" stroke-width="0.3" textLength="59.50" lengthAdjust="spacingAndGlyphs">mean (pA)</text>
<text transform="translate(603.60,78.20) rotate(-90)" x="0" y="0" font-size="12.3" text-anchor="middle" fill="#222" stroke="#222" stroke-width="0.3" textLength="77.80" lengthAdjust="spacingAndGlyphs">variance (pA)</text>
<line x1="633.00" y1="226.70" x2="633.00" y2="328.70" stroke="#333" stroke-width="1"/>
<line x1="631.20" y1="328.20" x2="633.00" y2="328.20" stroke="#333" stroke-width="1"/>
<line x1="631.20" y1="311.28" x2="633.00" y2="311.28" stroke="#333" stroke-width="1"/>
<line x1="631.20" y1="294.37" x2="633.00" y2="294.37" stroke="#333" stroke-width="1"/>
<line x1="631.20" y1="277.45" x2="633.00" y2="277.45" stroke="#333" stroke-width="1"/>
<line x1="631.20" y1="260.54" x2="633.00" y2="260.54" stroke="#333" stroke-width="1"/>
<line x1="631.20" y1="243.62" x2="633.00" y2="243.62" stroke="#333" stroke-width="1"/>
<line x1="631.20" y1="226.71" x2="633.00" y2="226.71" stroke="#333" stroke-width="1"/>
<text x="625.30" y="331.50" font-size="9.4" text-anchor="end" fill="#222" stroke="#222" stroke-width="0.3">0</text>
<text x="625.30" y="280.75" font-size="9.4" text-anchor="end" fill="#222" stroke="#222" stroke-width="0.3">150</text>
<text x="625.30" y="230.01" font-size="9.4" text-anchor="end" fill="#222" stroke="#222" stroke-width="0.3">300</text>
<line x1="632.50" y1="328.20" x2="749.90" y2="328.20" stroke="#333" stroke-width="1"/>
<line x1="633.00" y1="328.20" x2="633.00" y2="330.40" stroke="#333" stroke-width="1"/>
<text x="632.60" y="339.60" font-size="9.4" text-anchor="middle" fill="#222" stroke="#222" stroke-width="0.3">20</text>
<line x1="662.10" y1="328.20" x2="662.10" y2="330.40" stroke="#333" stroke-width="1"/>
<text x="661.70" y="339.60" font-size="9.4" text-anchor="middle" fill="#222" stroke="#222" stroke-width="0.3">25</text>
<line x1="691.20" y1="328.20" x2="691.20" y2="330.40" stroke="#333" stroke-width="1"/>
<text x="690.80" y="339.60" font-size="9.4" text-anchor="middle" fill="#222" stroke="#222" stroke-width="0.3">30</text>
<line x1="720.30" y1="328.20" x2="720.30" y2="330.40" stroke="#333" stroke-width="1"/>
<text x="719.90" y="339.60" font-size="9.4" text-anchor="middle" fill="#222" stroke="#222" stroke-width="0.3">35</text>
<line x1="749.40" y1="328.20" x2="749.40" y2="330.40" stroke="#333" stroke-width="1"/>
<text x="749.00" y="339.60" font-size="9.4" text-anchor="middle" fill="#222" stroke="#222" stroke-width="0.3">40</text>
<path d="M663.20,314.60 L663.70,314.43 L664.20,314.26 L664.70,314.09 L665.20,313.92 L665.70,313.74 L666.20,313.56 L666.70,313.37 L667.20,313.19 L667.70,313.00 L668.20,312.81 L668.70,312.61 L669.20,312.41 L669.70,312.21 L670.20,312.01 L670.70,311.80 L671.20,311.59 L671.70,311.38 L672.20,311.16 L672.70,310.94 L673.20,310.72 L673.70,310.49 L674.20,310.26 L674.70,310.02 L675.20,309.79 L675.70,309.54 L676.20,309.30 L676.70,309.05 L677.20,308.79 L677.70,308.54 L678.20,308.28 L678.70,308.01 L679.20,307.74 L679.70,307.47 L680.20,307.19 L680.70,306.91 L681.20,306.62 L681.70,306.33 L682.20,306.03 L682.70,305.73 L683.20,305.43 L683.70,305.12 L684.20,304.81 L684.70,304.49 L685.20,304.16 L685.70,303.83 L686.20,303.50 L686.70,303.16 L687.20,302.81 L687.70,302.46 L688.20,302.11 L688.70,301.75 L689.20,301.38 L689.70,301.01 L690.20,300.63 L690.70,300.24 L691.20,299.85 L691.70,299.46 L692.20,299.06 L692.70,298.65 L693.20,298.23 L693.70,297.81 L694.20,297.38 L694.70,296.95 L695.20,296.51 L695.70,296.06 L696.20,295.60 L696.70,295.14 L697.20,294.67 L697.70,294.20 L698.20,293.71 L698.70,293.22 L699.20,292.72 L699.70,292.21 L700.20,291.70 L700.70,291.18 L701.20,290.64 L701.70,290.10 L702.20,289.56 L702.70,289.00 L703.20,288.44 L703.70,287.86 L704.20,287.28 L704.70,286.69 L705.20,286.09 L705.70,285.48 L706.20,284.86 L706.70,284.23 L707.20,283.59 L707.70,282.94 L708.20,282.28 L708.70,281.61 L709.20,280.93 L709.70,280.24 L710.20,279.54 L710.70,278.83 L711.20,278.11 L711.70,277.37 L712.20,276.63 L712.70,275.87 L713.20,275.10 L713.70,274.32 L714.20,273.53 L714.70,272.72 L715.20,271.90 L715.70,271.07 L716.20,270.23 L716.70,269.37 L717.20,268.50 L717.70,267.62 L718.20,266.72 L718.70,265.81 L719.20,264.89 L719.70,263.95 L720.20,262.99 L720.70,262.02 L721.20,261.04 L721.70,260.04 L722.20,259.02 L722.70,257.99 L723.20,256.95 L723.70,255.88 L724.20,254.80 L724.70,253.71 L725.20,252.59 L725.70,251.46 L726.20,250.32 L726.70,249.15 L727.20,247.97 L727.70,246.76 L728.20,245.54 L728.70,244.30" fill="none" stroke="#666" stroke-width="1" stroke-linejoin="round"/>
<circle cx="661.4" cy="315.9" r="2.0" fill="#fff" stroke="#333" stroke-width="0.9"/>
<circle cx="705.6" cy="285.6" r="1.9" fill="#808080"/>
<circle cx="728.9" cy="243.8" r="2.1" fill="#000"/>
<text x="704.30" y="322.70" font-size="9.4" text-anchor="start" fill="#222" stroke="#222" stroke-width="0.3">R</text>
<text x="711.20" y="319.30" font-size="5.2" text-anchor="start" fill="#222" stroke="#222" stroke-width="0.3">2</text>
<text x="716.90" y="322.70" font-size="9.4" text-anchor="start" fill="#222" stroke="#222" stroke-width="0.3" textLength="4.80" lengthAdjust="spacingAndGlyphs">=</text>
<text x="724.40" y="322.70" font-size="9.4" text-anchor="start" fill="#222" stroke="#222" stroke-width="0.3" textLength="30.40" lengthAdjust="spacingAndGlyphs">0.9999</text>
<text x="668.50" y="354.40" font-size="12.3" text-anchor="start" fill="#222" stroke="#222" stroke-width="0.3" textLength="59.50" lengthAdjust="spacingAndGlyphs">mean (pA)</text>
<text transform="translate(603.60,267.80) rotate(-90)" x="0" y="0" font-size="12.3" text-anchor="middle" fill="#222" stroke="#222" stroke-width="0.3" textLength="77.80" lengthAdjust="spacingAndGlyphs">variance (pA)</text>
</svg>
</body></html>
